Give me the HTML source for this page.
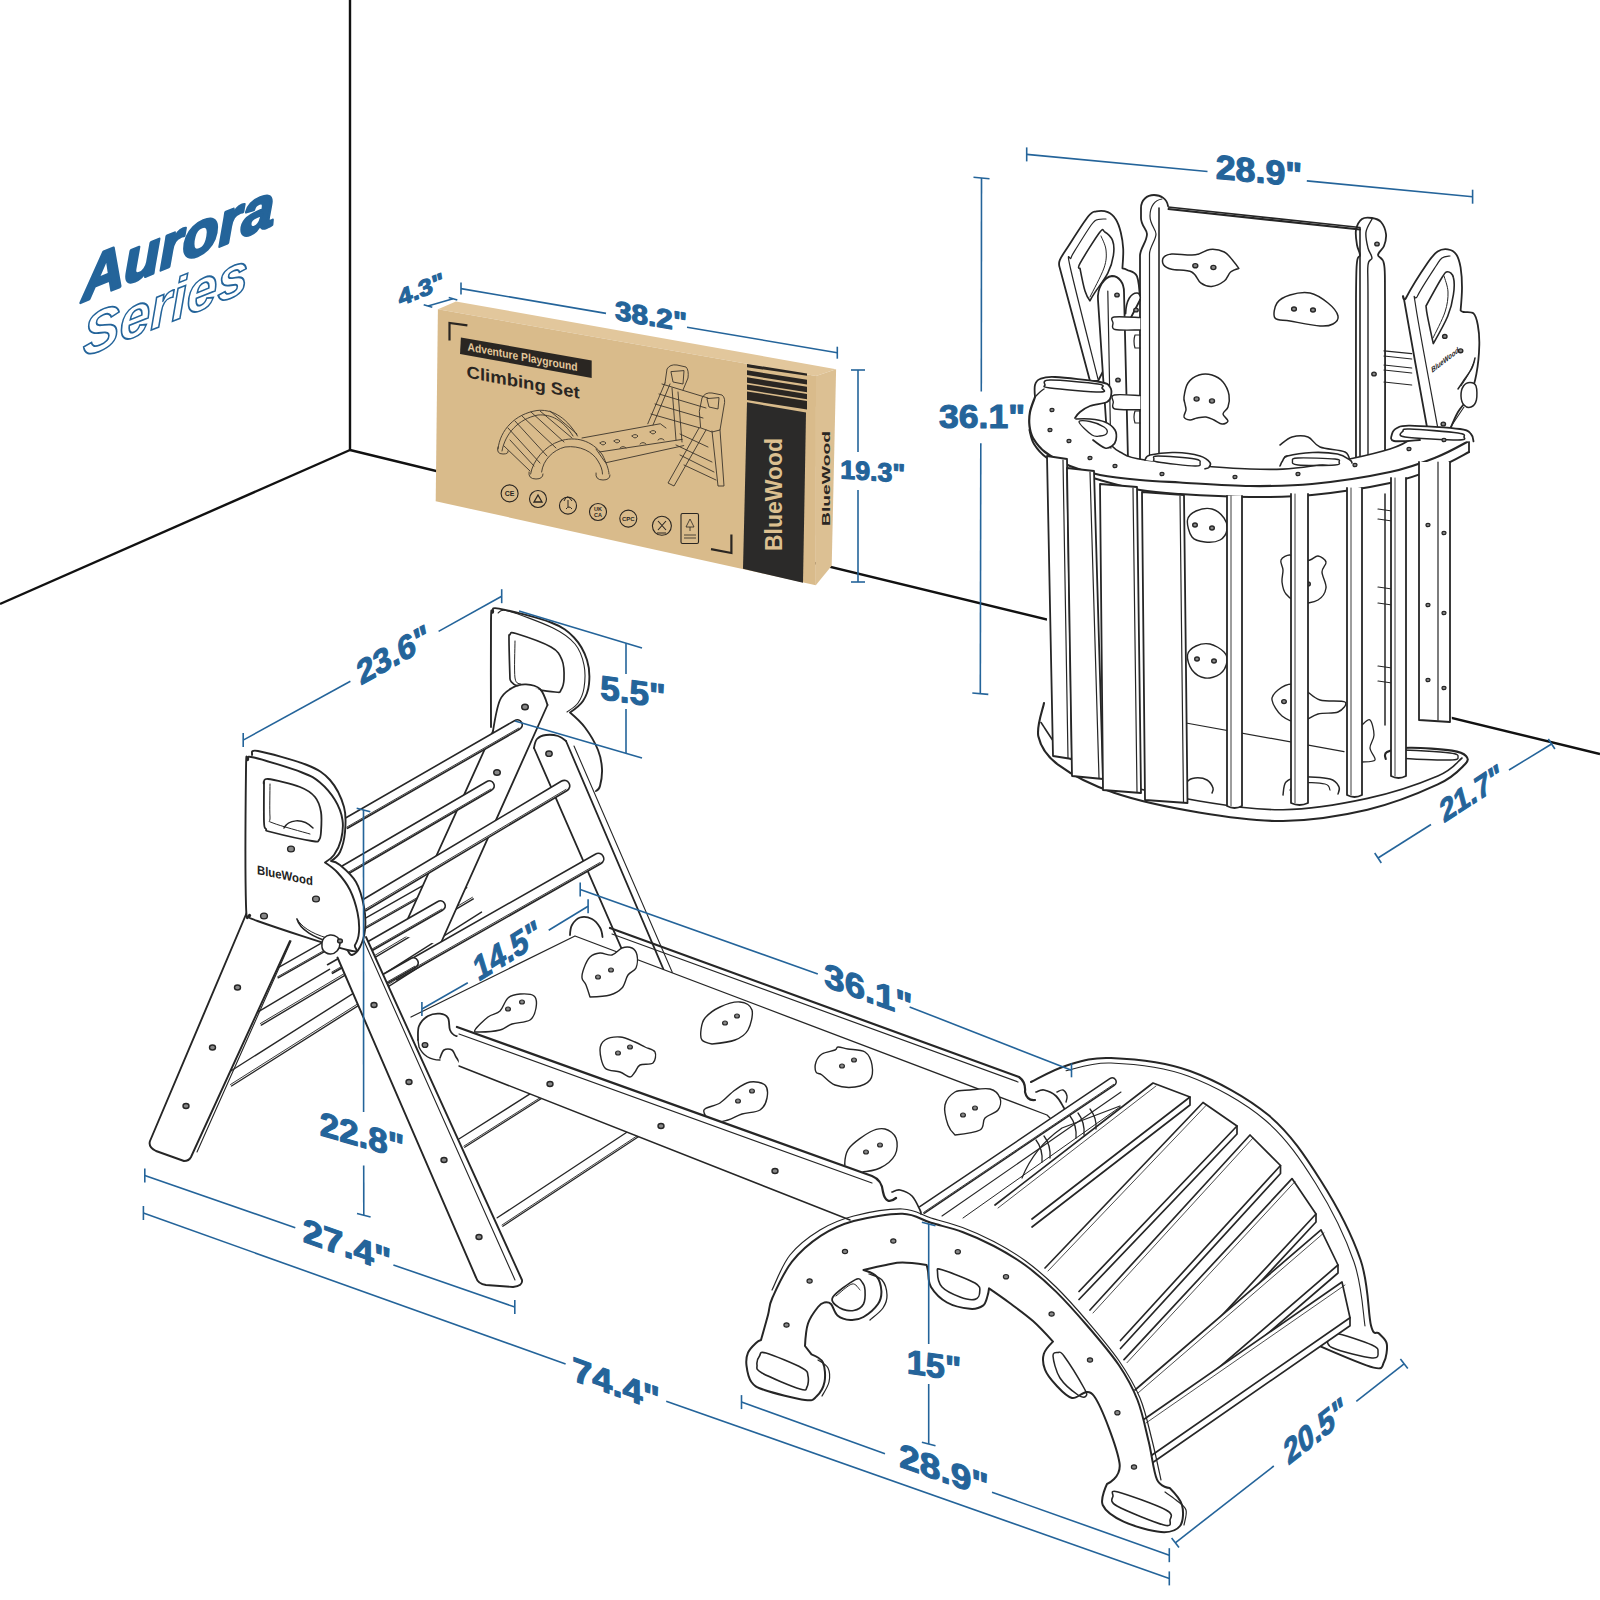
<!DOCTYPE html>
<html><head><meta charset="utf-8"><style>
html,body{margin:0;padding:0;background:#fff;}
svg{display:block;}
text{font-family:"Liberation Sans",sans-serif;}
</style></head><body>
<svg width="1600" height="1600" viewBox="0 0 1600 1600">
<rect width="1600" height="1600" fill="#fff"/>
<g stroke="#111" stroke-width="2.4" fill="none">
<line x1="350" y1="0" x2="350" y2="450" />
<line x1="0" y1="604" x2="350" y2="450" />
<line x1="350" y1="450" x2="1600" y2="754" />
</g>

<polygon points="437.9,309.3 455.9,301.4 836.1,369.2 816,376" fill="#e2c79c"/>
<polygon points="816,376 836.1,369.2 831.7,565.8 815.8,585.2" fill="#dcc093"/>
<polygon points="437.9,309.3 816,376 815.8,585.2 435.7,501.2" fill="#d9bb8b"/>
<polygon points="747,402.3 806,412.5 803,582.8 743,568.8" fill="#2b2a29"/>


<g>
<polyline points="449.5,340.6 449.5,323 467.4,325.4" fill="none" stroke="#2a2622" stroke-width="2.2"/>
<polyline points="711,549.2 731.4,553 731.4,534.4" fill="none" stroke="#2a2622" stroke-width="2.2"/>
<polygon points="460.9,337.4 591.7,360.5 591.7,378 460,354" fill="#2a2622"/>
<text transform="matrix(0.983,0.184,0,1,467.5,350.5)" font-size="11.5" font-weight="bold" fill="#e3c89c" textLength="112" lengthAdjust="spacingAndGlyphs">Adventure Playground</text>
<text transform="matrix(0.983,0.184,0,1,466.6,377.5)" font-size="17" fill="#2a2622" textLength="115" lengthAdjust="spacingAndGlyphs" style="font-weight:bold">Climbing Set</text>
<polygon points="747,364 807,373.4 807,375.8 747,367.2" fill="#2a2622"/>
<polygon points="747,370.3 807,379.8 807,384.5 747,375" fill="#2a2622"/>
<polygon points="747,377.3 807,386.8 807,392.3 747,382.8" fill="#2a2622"/>
<polygon points="747,384.4 807,393.9 807,399.3 747,389.8" fill="#2a2622"/>
<polygon points="747,391.4 807,400.9 807,409.5 747,400" fill="#2a2622"/>
<text transform="translate(782,551) rotate(-90)" font-size="24" font-weight="bold" fill="#dcc090" textLength="113" lengthAdjust="spacingAndGlyphs">BlueWood</text>
<text transform="translate(830,526) rotate(-90)" font-size="11" font-weight="bold" fill="#2a2622" textLength="95" lengthAdjust="spacingAndGlyphs">BlueWood</text>
<g fill="none" stroke="#2a2622" stroke-width="1.1">
<circle cx="509.6" cy="493.4" r="8.5"/><circle cx="538" cy="499" r="8.5"/><circle cx="568" cy="505.6" r="8.5"/><circle cx="598" cy="512" r="8.5"/><circle cx="628.3" cy="518.6" r="8.5"/><circle cx="661.9" cy="525.8" r="9.5"/>
<rect x="681" y="513.5" width="17.5" height="30" rx="1.5"/>
<path d="M534,502 L538,495 L542,502 Z" stroke-width="1.3"/>
<path d="M564,501 q3,-8 8,0 M566,509 q3,-4 6,0 M568,500 v7" stroke-width="1"/>
<path d="M658,521 L666,530 M666,521 L658,530 M657,533 h9" stroke-width="1.1"/>
<path d="M686,527 L690,519 L694,527 Z M690,527 v4 M684,535 h12 M684,538 h12" stroke-width="0.8"/>
</g>
<g fill="#2a2622" font-weight="bold" text-anchor="middle" font-size="7">
<text x="509.6" y="496">CE</text><text x="628.3" y="521" font-size="6">CPC</text><text x="598" y="511" font-size="5.5">UK</text><text x="598" y="517" font-size="5.5">CA</text>
</g>
<g fill="none" stroke="#3b342b" stroke-width="0.9" stroke-linejoin="round" stroke-linecap="round">
<path d="M498,449 C500,430 515,414 537,410.5 C550,409 565,415 577.5,436"/>
<path d="M502,451 C505,434 518,419 538,415 C551,414 563,420 573,436"/>
<path d="M508,428 L540,463 M515,421 L547,456 M522,416 L556,448 M531,412 L564,442 M540,411 L572,438 M550,411 L577,434 M510,440 L534,466 M504,446 L530,471"/>
<path d="M530.6,474 C533,460 545,446 560,441 C575,436 592,440 602.5,455 C606,462 609,470 609,474"/>
<path d="M541.6,472 C543,460 553,450 565,447 C580,445 593,452 598,461 C601,466 602.5,470 602.5,474"/>
<path d="M529,472 q-1,7 7,7 q7,0 7,-5 M596,473 q-1,7 7,7 q7,0 7,-5 M498,447 q-2,7 5,7 q6,0 5,-3"/>
<path d="M582,438 L660.3,423.75 L666,428 M599.4,452 L682.2,439.4 M605.6,462.8 L683.75,445.6 M596,449 L605,462"/>
<path d="M600,443 q3,-3 6,0 q-3,4 -6,0 M614,441 q3,-3 6,0 q-3,4 -6,0 M632,436 q3,-3 6,0 q-3,4 -6,0 M650,432 q3,-3 6,0 q-3,4 -6,0 M620,448 q3,-3 6,0 M640,444 q3,-3 6,0 M658,440 q3,-3 6,0"/>
<path d="M647.8,423.75 L665,383 M653,425 L670,384 M665,383 L667,369 Q670,364 677,365 L686,367 Q689,370 688,378 L683,390"/>
<path d="M671,372 L673,382 L683,384 L684,371 Z"/>
<path d="M659,394 L706,408 M655,404 L703,418 M651,414 L700,428 M662,384 L708,398 M672,388 L676,440 M678,392 L682,442"/>
<path d="M699.4,411 L702,398 Q705,392 712,393 L722,395 Q726,398 724,406 L720,430 L712,432 L701,428 Z"/>
<path d="M707,399 L709,407 L718,409 L719,398 Z"/>
<path d="M699,428 L668,483 L674,486 L706,430 M712,431 L718,486 L724,486 L720,430"/>
<path d="M676,445 L712,462 M680,455 L714,472 M684,465 L716,480 M680,434 L708,447"/>
</g>
</g>
<g stroke="#262626" stroke-linecap="round" stroke-linejoin="round" fill="none">
<path d="M1030.0,430.0 C1030.0,431.8 1027.0,436.3 1030.0,441.0 C1033.0,445.7 1045.0,431.5 1048.0,458.0 C1051.0,484.5 1049.8,552.3 1048.0,600.0 C1046.2,647.7 1037.5,715.7 1037.0,744.0 C1036.5,772.3 1040.8,762.8 1045.0,770.0 C1049.2,777.2 1046.2,780.0 1062.0,787.0 C1077.8,794.0 1108.7,806.0 1140.0,812.0 C1171.3,818.0 1216.0,822.5 1250.0,823.0 C1284.0,823.5 1315.3,821.0 1344.0,815.0 C1372.7,809.0 1402.3,795.3 1422.0,787.0 C1441.7,778.7 1457.0,775.8 1462.0,765.0 C1467.0,754.2 1453.8,774.2 1452.0,722.0 C1450.2,669.8 1448.2,497.0 1451.0,452.0 C1453.8,407.0 1466.0,453.8 1469.0,452.0 C1472.0,450.2 1469.0,442.8 1469.0,441.0" stroke-width="0" fill="#fff"/><path d="M1158.5,206.0 L1360.0,227.5 L1360.0,470.0 L1159.0,476.0" stroke-width="1.6" fill="none"/><line x1="1159.0" y1="208.0" x2="1360.0" y2="229.5" stroke-width="2.2"/><path d="M1140,470 L1140,256 C1140,248 1147,242 1147,234 C1147,229 1141,226 1141,218 L1141,208 C1141,200 1147,195 1154,195 C1161,195 1167,199 1168,206" stroke-width="1.8" fill="#fff"/><path d="M1149.5,470 L1149.5,254 C1149.5,247 1156,240 1156,234 C1156,229 1150,225 1150,216 C1150,206 1155,200 1162,199" stroke-width="1.2" fill="none"/><path d="M1159.0,208.0 L1159.0,470.0" stroke-width="1.6" fill="none"/><path d="M1356.0,470.0 C1356.0,441.7 1355.8,334.7 1356.0,300.0 C1356.2,265.3 1356.3,269.5 1357.0,262.0 C1357.7,254.5 1360.0,257.8 1360.0,255.0 C1360.0,252.2 1357.7,249.2 1357.0,245.0 C1356.3,240.8 1355.2,234.3 1356.0,230.0 C1356.8,225.7 1359.3,221.0 1362.0,219.0 C1364.7,217.0 1368.8,217.5 1372.0,218.0 C1375.2,218.5 1378.7,219.3 1381.0,222.0 C1383.3,224.7 1385.5,230.0 1386.0,234.0 C1386.5,238.0 1385.3,242.5 1384.0,246.0 C1382.7,249.5 1378.0,252.0 1378.0,255.0 C1378.0,258.0 1382.8,256.5 1384.0,264.0 C1385.2,271.5 1384.8,265.7 1385.0,300.0 C1385.2,334.3 1385.0,441.7 1385.0,470.0" stroke-width="1.8" fill="none"/><path d="M1368.0,466.0 C1368.0,438.3 1368.0,333.5 1368.0,300.0 C1368.0,266.5 1367.3,272.0 1368.0,265.0 C1368.7,258.0 1372.0,260.8 1372.0,258.0 C1372.0,255.2 1369.0,252.3 1368.0,248.0 C1367.0,243.7 1365.3,236.8 1366.0,232.0 C1366.7,227.2 1371.0,221.2 1372.0,219.0" stroke-width="1.4" fill="none"/><ellipse cx="1377.0" cy="244.0" rx="2.2" ry="1.9" stroke-width="1.4" fill="#888"/><ellipse cx="1374.0" cy="374.0" rx="2.2" ry="1.9" stroke-width="1.4" fill="#888"/><path d="M1090.0,381.0 C1090.0,381.0 1059.8,268.0 1059.8,268.0 C1059.8,268.0 1058.3,263.9 1059.8,260.1 C1061.3,256.4 1064.0,252.8 1068.8,245.5 C1073.5,238.2 1083.7,222.0 1088.3,216.3 C1092.9,210.6 1093.2,212.1 1096.4,211.4 C1099.7,210.7 1104.5,210.8 1107.8,212.2 C1111.0,213.5 1113.7,216.1 1115.9,219.5 C1118.1,222.9 1119.6,227.6 1120.8,232.5 C1122.0,237.4 1122.9,242.8 1123.2,248.8 C1123.5,254.8 1122.4,268.3 1122.4,268.3 C1122.4,268.3 1124.9,268.6 1127.3,270.0 C1129.7,271.4 1134.9,271.4 1137.0,276.4 C1139.1,281.4 1140.0,300.0 1140.0,300.0 C1140.0,300.0 1098.0,381.0 1098.0,381.0 C1098.0,381.0 1090.0,381.0 1090.0,381.0 Z" stroke-width="1.8" fill="#fff"/><path d="M1098.0,379.0 C1093.4,360.5 1074.9,288.2 1070.4,268.0 C1065.9,247.8 1070.1,261.2 1071.0,258.0 C1071.9,254.8 1072.5,254.5 1076.0,248.8 C1079.5,243.1 1088.3,228.9 1092.0,224.0 C1095.7,219.1 1095.7,220.3 1098.0,219.5 C1100.3,218.7 1104.7,219.1 1106.0,219.0" stroke-width="1.2" fill="none"/><path d="M1080.0,268.3 C1080.0,268.3 1076.7,269.4 1080.0,263.4 C1083.3,257.4 1095.5,237.8 1099.6,232.5 C1103.7,227.2 1102.3,230.3 1104.5,231.7 C1106.7,233.0 1111.1,236.7 1112.6,240.6 C1114.1,244.5 1114.2,249.9 1113.4,255.3 C1112.6,260.7 1110.9,266.9 1107.8,273.1 C1104.7,279.3 1097.8,288.0 1094.8,292.6 C1091.8,297.2 1089.9,300.8 1089.9,300.8 C1089.9,300.8 1086.7,296.4 1085.0,291.0 C1083.3,285.6 1080.0,268.3 1080.0,268.3 Z" stroke-width="1.6" fill="none"/><path d="M1101.0,236.0 C1101.8,238.3 1105.5,244.7 1106.0,250.0 C1106.5,255.3 1106.7,260.2 1104.0,268.0 C1101.3,275.8 1092.3,292.2 1090.0,297.0" stroke-width="1.0" fill="none"/><path d="M1108.6,460 L1098,300 C1097,288 1104,277 1112,276 C1119,276 1124,283 1124,292 L1128,460" stroke-width="1.8" fill="#fff"/><line x1="1107.8" y1="291.0" x2="1111.0" y2="460.0" stroke-width="1.2"/><path d="M1125.6,313.8 C1126,300 1131,293 1137,293 C1139,293 1140,295 1140.3,297.5" stroke-width="1.6" fill="#fff"/><ellipse cx="1117.0" cy="295.0" rx="2.2" ry="1.9" stroke-width="1.4" fill="#888"/><ellipse cx="1136.0" cy="310.0" rx="2.2" ry="1.9" stroke-width="1.4" fill="#888"/><ellipse cx="1118.0" cy="380.0" rx="2.2" ry="1.9" stroke-width="1.4" fill="#888"/><path d="M1140.3,317.5 C1135.9,317.4 1118.5,316.1 1114.0,317.0 C1109.5,317.9 1112.8,320.9 1113.0,323.0 C1113.2,325.1 1110.5,328.3 1115.0,329.5 C1119.5,330.7 1136.1,329.9 1140.3,330.0" stroke-width="1.4" fill="#fff"/><path d="M1140.3,395.5 C1136.0,395.4 1118.8,393.9 1114.3,395.0 C1109.8,396.1 1113.2,399.7 1113.3,402.0 C1113.4,404.3 1110.5,407.7 1115.0,409.0 C1119.5,410.3 1136.1,409.6 1140.3,409.7" stroke-width="1.4" fill="#fff"/><path d="M1140,335 L1135,335 Q1133,341 1135,348 L1140,348 M1140,411 L1135,411 Q1133,417 1135,423 L1140,423" stroke-width="1.2" fill="none"/><path d="M1426.8,426.0 C1426.8,426.0 1408.7,327.3 1405.2,306.0 C1401.7,284.7 1402.3,305.2 1406.0,298.0 C1409.7,290.8 1422.2,270.7 1427.5,263.0 C1432.8,255.3 1434.2,253.9 1437.6,251.6 C1441.0,249.3 1444.6,248.9 1447.7,249.4 C1450.8,249.9 1454.2,251.4 1456.3,254.4 C1458.4,257.4 1459.6,261.9 1460.6,267.4 C1461.5,272.9 1462.0,280.3 1462.0,287.5 C1462.0,294.7 1460.6,310.5 1460.6,310.5 C1460.6,310.5 1461.3,311.5 1463.5,312.0 C1465.7,312.5 1471.1,311.2 1473.5,313.4 C1475.9,315.6 1476.8,319.7 1477.8,325.0 C1478.8,330.3 1479.5,336.9 1479.3,345.0 C1479.1,353.1 1478.0,365.5 1476.4,373.8 C1474.9,382.1 1473.1,388.6 1470.0,395.0 C1466.9,401.4 1461.2,406.4 1458.0,412.0 C1454.8,417.6 1450.5,428.4 1450.5,428.4" stroke-width="1.8" fill="#fff"/><path d="M1437.6,427.0 C1434.0,407.2 1419.3,329.8 1416.0,308.0 C1412.7,286.2 1414.2,303.0 1417.5,296.0 C1420.8,289.0 1431.9,272.3 1436.0,266.0 C1440.1,259.7 1439.7,259.7 1442.0,258.0 C1444.3,256.3 1448.7,256.3 1450.0,256.0" stroke-width="1.2" fill="none"/><path d="M1426.0,306.0 C1426.0,306.0 1438.4,283.2 1442.0,277.5 C1445.6,271.8 1445.8,271.7 1447.7,271.7 C1449.6,271.7 1452.5,273.7 1453.4,277.5 C1454.4,281.3 1454.4,288.2 1453.4,294.7 C1452.5,301.2 1451.1,308.1 1447.7,316.3 C1444.3,324.5 1433.3,343.6 1433.3,343.6 C1433.3,343.6 1428.7,322.6 1427.5,316.3 C1426.3,310.0 1426.0,306.0 1426.0,306.0 Z" stroke-width="1.6" fill="none"/><path d="M1444.0,276.0 C1444.7,278.7 1447.8,286.0 1448.0,292.0 C1448.2,298.0 1447.5,304.3 1445.0,312.0 C1442.5,319.7 1435.0,333.7 1433.0,338.0" stroke-width="1.0" fill="none"/><ellipse cx="1444.8" cy="336.4" rx="2.2" ry="1.9" stroke-width="1.4" fill="#888"/><ellipse cx="1460.6" cy="350.8" rx="2.2" ry="1.9" stroke-width="1.4" fill="#888"/><ellipse cx="1443.3" cy="424.0" rx="2.2" ry="1.9" stroke-width="1.4" fill="#888"/><path d="M1384,350.8 L1411.7,353.7 M1384,356 L1411.7,359 M1384,365 L1411.7,368 M1384,370 L1411.7,373 M1384,382 L1411.7,385" stroke-width="1.2" fill="none"/><text transform="matrix(0.79,-0.61,0.15,1,1432,373)" font-size="8" font-weight="bold" fill="#222" stroke="none" textLength="34" lengthAdjust="spacingAndGlyphs">BlueWood</text><path d="M1475.0,358.0 C1474.5,359.7 1473.8,364.3 1472.0,368.0 C1470.2,371.7 1466.3,376.5 1464.0,380.0 C1461.7,383.5 1459.0,387.5 1458.0,389.0" stroke-width="1.5" fill="none"/><path d="M1474.0,362.0 C1473.0,364.2 1470.2,371.0 1468.0,375.0 C1465.8,379.0 1462.2,384.2 1461.0,386.0" stroke-width="1.0" fill="none"/><path d="M1463.5,386.0 C1465.0,383.8 1467.9,382.5 1470.0,382.5 C1472.1,382.5 1474.9,383.1 1476.0,386.0 C1477.1,388.9 1477.2,396.5 1476.4,400.0 C1475.6,403.5 1473.1,406.2 1471.0,407.0 C1468.9,407.8 1465.7,406.8 1464.0,405.0 C1462.3,403.2 1461.1,399.2 1461.0,396.0 C1460.9,392.8 1462.0,388.2 1463.5,386.0 Z" stroke-width="1.5" fill="#fff"/><line x1="1464.0" y1="407.0" x2="1450.0" y2="428.0" stroke-width="1.1"/><path d="M1163.5,257.5 C1164.9,255.7 1166.4,254.4 1171.7,254.0 C1177.0,253.6 1189.0,255.6 1195.3,254.8 C1201.6,254.0 1205.0,249.9 1209.8,249.4 C1214.6,248.9 1220.4,250.0 1224.3,252.0 C1228.2,254.0 1231.0,258.5 1233.4,261.2 C1235.8,263.9 1238.8,268.4 1238.8,268.4 C1238.8,268.4 1233.0,269.9 1230.6,272.0 C1228.2,274.1 1227.5,278.6 1224.3,281.0 C1221.1,283.4 1215.5,286.2 1211.6,286.5 C1207.7,286.8 1204.0,285.3 1200.7,282.9 C1197.4,280.5 1196.5,274.3 1191.7,272.0 C1186.9,269.7 1176.4,270.5 1171.7,269.3 C1167.0,268.1 1164.9,266.8 1163.5,264.8 C1162.1,262.8 1162.1,259.3 1163.5,257.5 Z" stroke-width="1.5" fill="#fff"/><ellipse cx="1195.3" cy="265.7" rx="2.5" ry="2.1" stroke-width="1.4" fill="#888"/><ellipse cx="1213.4" cy="267.5" rx="2.5" ry="2.1" stroke-width="1.4" fill="#888"/><path d="M1275.0,318.0 C1272.8,315.0 1274.5,306.8 1277.0,303.0 C1279.5,299.2 1284.5,296.7 1290.0,295.0 C1295.5,293.3 1303.7,291.7 1310.0,293.0 C1316.3,294.3 1323.3,299.2 1328.0,303.0 C1332.7,306.8 1337.2,312.5 1338.0,316.0 C1338.8,319.5 1336.0,322.3 1333.0,324.0 C1330.0,325.7 1327.2,326.5 1320.0,326.0 C1312.8,325.5 1297.5,322.3 1290.0,321.0 C1282.5,319.7 1277.2,321.0 1275.0,318.0 Z" stroke-width="1.5" fill="#fff"/><ellipse cx="1294.0" cy="309.0" rx="2.4" ry="2.0" stroke-width="1.4" fill="#888"/><ellipse cx="1313.0" cy="310.0" rx="2.4" ry="2.0" stroke-width="1.4" fill="#888"/><path d="M1184.0,397.0 C1184.5,393.5 1185.5,386.7 1188.0,383.0 C1190.5,379.3 1195.0,376.3 1199.0,375.0 C1203.0,373.7 1208.0,373.8 1212.0,375.0 C1216.0,376.2 1220.2,378.7 1223.0,382.0 C1225.8,385.3 1228.2,390.8 1229.0,395.0 C1229.8,399.2 1229.0,403.8 1228.0,407.0 C1227.0,410.2 1223.0,411.7 1223.0,414.0 C1223.0,416.3 1228.2,419.3 1228.0,421.0 C1227.8,422.7 1224.3,424.2 1222.0,424.0 C1219.7,423.8 1216.7,421.2 1214.0,420.0 C1211.3,418.8 1208.8,417.3 1206.0,417.0 C1203.2,416.7 1199.7,417.5 1197.0,418.0 C1194.3,418.5 1192.2,420.2 1190.0,420.0 C1187.8,419.8 1184.7,418.7 1184.0,417.0 C1183.3,415.3 1185.8,412.2 1186.0,410.0 C1186.2,407.8 1185.3,406.2 1185.0,404.0 C1184.7,401.8 1183.5,400.5 1184.0,397.0 Z" stroke-width="1.5" fill="#fff"/><ellipse cx="1196.6" cy="399.0" rx="2.5" ry="2.1" stroke-width="1.4" fill="#888"/><ellipse cx="1212.0" cy="401.0" rx="2.5" ry="2.1" stroke-width="1.4" fill="#888"/><path d="M1280.0,445.0 C1282.0,443.7 1287.3,438.3 1292.0,437.0 C1296.7,435.7 1303.3,435.3 1308.0,437.0 C1312.7,438.7 1313.8,444.5 1320.0,447.0 C1326.2,449.5 1340.0,449.5 1345.0,452.0 C1350.0,454.5 1349.2,460.3 1350.0,462.0" stroke-width="1.5" fill="none"/><ellipse cx="1287.0" cy="458.0" rx="2.4" ry="2.0" stroke-width="1.4" fill="#888"/><path d="M1035.0,397.0 C1042.6,395.0 1065.3,410.8 1075.0,418.0 C1084.7,425.2 1085.5,434.3 1093.0,440.0 C1100.5,445.7 1111.3,448.7 1120.0,452.0 C1128.7,455.3 1123.3,457.2 1145.0,460.0 C1166.7,462.8 1222.2,468.0 1250.0,469.0 C1277.8,470.0 1288.7,469.3 1312.0,466.0 C1335.3,462.7 1372.0,454.5 1390.0,449.0 C1408.0,443.5 1406.8,434.3 1420.0,433.0 C1433.2,431.7 1460.8,437.8 1469.0,441.0 C1477.2,444.2 1474.3,447.5 1469.0,452.0 C1463.7,456.5 1450.2,462.8 1437.0,468.0 C1423.8,473.2 1410.8,478.5 1390.0,483.0 C1369.2,487.5 1335.3,492.7 1312.0,495.0 C1288.7,497.3 1272.0,497.2 1250.0,497.0 C1228.0,496.8 1198.3,495.2 1180.0,494.0 C1161.7,492.8 1153.3,492.3 1140.0,490.0 C1126.7,487.7 1111.7,483.3 1100.0,480.0 C1088.3,476.7 1078.8,473.7 1070.0,470.0 C1061.2,466.3 1053.0,462.3 1047.0,458.0 C1041.0,453.7 1036.9,448.7 1034.0,444.0 C1031.1,439.3 1029.3,437.8 1029.5,430.0 C1029.7,422.2 1027.4,399.0 1035.0,397.0 Z" stroke-width="0" fill="#fff"/><path d="M1035.0,397.0 C1034.2,399.5 1030.9,407.2 1030.0,412.0 C1029.1,416.8 1029.0,421.7 1029.5,426.0 C1030.0,430.3 1030.4,433.7 1033.0,438.0 C1035.6,442.3 1038.8,447.3 1045.0,452.0 C1051.2,456.7 1060.8,462.2 1070.0,466.0 C1079.2,469.8 1088.3,472.7 1100.0,475.0 C1111.7,477.3 1126.7,478.8 1140.0,480.0 C1153.3,481.2 1161.7,481.5 1180.0,482.5 C1198.3,483.5 1228.0,485.8 1250.0,486.0 C1272.0,486.2 1288.7,486.3 1312.0,484.0 C1335.3,481.7 1369.2,476.5 1390.0,472.0 C1410.8,467.5 1423.8,462.2 1437.0,457.0 C1450.2,451.8 1463.7,443.7 1469.0,441.0" stroke-width="2.2" fill="none"/><path d="M1029.5,430.0 C1030.2,432.3 1031.1,439.3 1034.0,444.0 C1036.9,448.7 1041.0,453.7 1047.0,458.0 C1053.0,462.3 1061.2,466.3 1070.0,470.0 C1078.8,473.7 1088.3,476.7 1100.0,480.0 C1111.7,483.3 1126.7,487.7 1140.0,490.0 C1153.3,492.3 1161.7,492.8 1180.0,494.0 C1198.3,495.2 1228.0,496.8 1250.0,497.0 C1272.0,497.2 1288.7,497.3 1312.0,495.0 C1335.3,492.7 1369.2,487.5 1390.0,483.0 C1410.8,478.5 1423.8,473.2 1437.0,468.0 C1450.2,462.8 1463.7,454.7 1469.0,452.0" stroke-width="2.0" fill="none"/><line x1="1469.0" y1="441.0" x2="1469.0" y2="452.0" stroke-width="1.8"/><path d="M1112.0,446.0 C1113.3,447.0 1114.5,449.7 1120.0,452.0 C1125.5,454.3 1123.3,457.2 1145.0,460.0 C1166.7,462.8 1222.2,468.0 1250.0,469.0 C1277.8,470.0 1288.7,469.3 1312.0,466.0 C1335.3,462.7 1372.0,454.5 1390.0,449.0 C1408.0,443.5 1415.0,435.7 1420.0,433.0" stroke-width="1.6" fill="none"/><path d="M1035.0,397.0 C1035.0,397.0 1034.2,388.0 1035.0,385.0 C1035.8,382.0 1036.7,380.3 1040.0,379.0 C1043.3,377.7 1045.0,376.5 1055.0,377.0 C1065.0,377.5 1090.8,380.3 1100.0,382.0 C1109.2,383.7 1108.2,384.7 1110.0,387.0 C1111.8,389.3 1111.5,393.5 1111.0,396.0 C1110.5,398.5 1110.5,400.3 1107.0,402.0 C1103.5,403.7 1094.5,404.3 1090.0,406.0 C1085.5,407.7 1082.5,410.0 1080.0,412.0 C1077.5,414.0 1075.0,418.0 1075.0,418.0" stroke-width="1.8" fill="#fff"/><path d="M1035.0,397.0 C1035.8,396.2 1038.5,393.3 1040.0,392.0 C1041.5,390.7 1043.3,389.5 1044.0,389.0" stroke-width="1.3" fill="none"/><path d="M1045.0,385.0 C1045.0,383.7 1041.2,380.2 1050.0,380.0 C1058.8,379.8 1089.3,382.7 1098.0,384.0 C1106.7,385.3 1101.7,386.7 1102.0,388.0 C1102.3,389.3 1108.7,392.0 1100.0,392.0 C1091.3,392.0 1059.2,389.2 1050.0,388.0 C1040.8,386.8 1045.0,386.3 1045.0,385.0 Z" stroke-width="1.6" fill="none"/><path d="M1076.0,419.0 C1076.0,419.0 1085.2,418.5 1090.0,419.0 C1094.8,419.5 1100.8,420.2 1105.0,422.0 C1109.2,423.8 1113.2,427.0 1115.0,430.0 C1116.8,433.0 1116.5,437.3 1116.0,440.0 C1115.5,442.7 1113.8,444.7 1112.0,446.0 C1110.2,447.3 1108.2,449.0 1105.0,448.0 C1101.8,447.0 1093.0,440.0 1093.0,440.0" stroke-width="1.7" fill="#fff"/><path d="M1079.0,422.0 C1078.7,419.8 1085.8,420.7 1090.0,421.5 C1094.2,422.3 1101.2,425.1 1104.0,427.0 C1106.8,428.9 1107.7,431.5 1107.0,433.0 C1106.3,434.5 1102.5,435.7 1100.0,436.0 C1097.5,436.3 1095.5,437.3 1092.0,435.0 C1088.5,432.7 1079.3,424.2 1079.0,422.0 Z" stroke-width="1.3" fill="none"/><path d="M1420.0,440.0 C1415.7,440.2 1398.7,442.0 1394.0,441.0 C1389.3,440.0 1391.5,436.2 1392.0,434.0 C1392.5,431.8 1394.0,429.4 1397.0,428.0 C1400.0,426.6 1399.5,425.4 1410.0,425.6 C1420.5,425.8 1449.8,427.6 1460.0,429.0 C1470.2,430.4 1468.8,431.9 1471.0,434.0 C1473.2,436.1 1473.1,440.2 1473.5,441.4" stroke-width="1.8" fill="#fff"/><path d="M1403.0,431.0 C1403.8,429.7 1400.8,428.7 1410.0,429.0 C1419.2,429.3 1449.0,431.7 1458.0,433.0 C1467.0,434.3 1464.0,435.8 1464.0,437.0 C1464.0,438.2 1467.8,440.0 1458.0,440.0 C1448.2,440.0 1414.2,438.5 1405.0,437.0 C1395.8,435.5 1402.2,432.3 1403.0,431.0 Z" stroke-width="1.6" fill="none"/><path d="M1145.0,460.0 C1145.8,459.2 1145.0,456.2 1150.0,455.0 C1155.0,453.8 1166.7,452.3 1175.0,452.5 C1183.3,452.7 1194.2,454.3 1200.0,456.0 C1205.8,457.7 1208.5,460.6 1210.0,462.5 C1211.5,464.4 1209.6,466.5 1208.8,467.5 C1207.9,468.5 1205.6,468.5 1205.0,468.8" stroke-width="1.6" fill="#fff"/><path d="M1154.0,459.0 C1154.0,458.0 1151.2,456.0 1158.0,456.0 C1164.8,456.0 1188.0,457.8 1195.0,459.0 C1202.0,460.2 1200.0,461.8 1200.0,463.0 C1200.0,464.2 1202.0,466.2 1195.0,466.0 C1188.0,465.8 1164.8,463.2 1158.0,462.0 C1151.2,460.8 1154.0,460.0 1154.0,459.0 Z" stroke-width="1.4" fill="none"/><path d="M1280.0,466.0 C1280.4,465.2 1281.2,462.7 1282.5,461.0 C1283.8,459.3 1282.5,457.4 1287.5,456.0 C1292.5,454.6 1304.2,452.8 1312.5,452.5 C1320.8,452.2 1331.2,452.8 1337.5,454.0 C1343.8,455.2 1347.6,458.5 1350.0,460.0 C1352.4,461.5 1351.7,462.5 1352.0,463.0" stroke-width="1.6" fill="#fff"/><path d="M1292.5,461.0 C1292.5,459.8 1290.9,458.3 1298.0,458.0 C1305.1,457.7 1328.2,458.3 1335.0,459.0 C1341.8,459.7 1339.0,461.0 1339.0,462.0 C1339.0,463.0 1341.8,464.5 1335.0,465.0 C1328.2,465.5 1305.1,465.7 1298.0,465.0 C1290.9,464.3 1292.5,462.2 1292.5,461.0 Z" stroke-width="1.4" fill="none"/><ellipse cx="1050.0" cy="430.0" rx="2.0" ry="1.7" stroke-width="1.2" fill="#888"/><ellipse cx="1069.0" cy="441.0" rx="2.0" ry="1.7" stroke-width="1.2" fill="#888"/><ellipse cx="1090.0" cy="458.0" rx="2.0" ry="1.7" stroke-width="1.2" fill="#888"/><ellipse cx="1115.0" cy="466.0" rx="2.0" ry="1.7" stroke-width="1.2" fill="#888"/><ellipse cx="1162.0" cy="474.0" rx="2.0" ry="1.7" stroke-width="1.2" fill="#888"/><ellipse cx="1235.0" cy="477.0" rx="2.0" ry="1.7" stroke-width="1.2" fill="#888"/><ellipse cx="1298.0" cy="474.0" rx="2.0" ry="1.7" stroke-width="1.2" fill="#888"/><ellipse cx="1355.0" cy="465.0" rx="2.0" ry="1.7" stroke-width="1.2" fill="#888"/><ellipse cx="1409.0" cy="449.0" rx="2.0" ry="1.7" stroke-width="1.2" fill="#888"/><ellipse cx="1444.0" cy="440.0" rx="2.0" ry="1.7" stroke-width="1.2" fill="#888"/><ellipse cx="1052.0" cy="410.0" rx="2.0" ry="1.7" stroke-width="1.2" fill="#888"/><path d="M1044.0,703.0 C1043.1,708.6 1036.1,726.3 1038.4,736.6 C1040.7,746.9 1045.4,755.3 1058.0,764.7 C1070.6,774.1 1090.5,784.8 1114.0,792.8 C1137.5,800.8 1170.8,807.8 1199.0,812.5 C1227.2,817.2 1254.9,821.5 1283.0,821.0 C1311.1,820.5 1341.7,815.8 1367.5,809.7 C1393.3,803.6 1421.6,791.9 1437.8,784.4 C1454.0,776.9 1459.8,769.4 1464.5,764.7 C1469.2,760.0 1468.1,758.4 1466.0,756.0 C1463.9,753.6 1461.4,752.0 1452.0,750.6 C1442.6,749.2 1420.4,747.6 1409.6,747.8 C1398.8,748.0 1391.0,750.1 1387.0,752.0 C1383.0,753.9 1385.9,757.8 1385.7,759.0" stroke-width="2.1" fill="none"/><path d="M1041.0,722.5 C1045.3,728.1 1054.4,746.1 1066.6,756.0 C1078.8,765.9 1091.9,774.1 1114.0,781.6 C1136.1,789.1 1170.8,796.3 1199.0,801.0 C1227.2,805.7 1254.9,810.1 1283.0,809.7 C1311.1,809.3 1341.7,804.0 1367.5,798.4 C1393.3,792.8 1422.0,782.7 1437.8,776.0 C1453.5,769.3 1458.0,761.0 1462.0,758.0" stroke-width="1.6" fill="none"/><path d="M1392.0,753.0 C1392.0,751.7 1390.3,750.0 1400.0,750.0 C1409.7,750.0 1440.3,751.8 1450.0,753.0 C1459.7,754.2 1458.0,755.8 1458.0,757.0 C1458.0,758.2 1459.7,759.8 1450.0,760.0 C1440.3,760.2 1409.7,759.2 1400.0,758.0 C1390.3,756.8 1392.0,754.3 1392.0,753.0 Z" stroke-width="1.4" fill="none"/><path d="M1185.0,793.0 C1185.3,791.2 1185.3,784.5 1187.0,782.0 C1188.7,779.5 1191.7,778.3 1195.0,778.0 C1198.3,777.7 1204.0,778.3 1207.0,780.0 C1210.0,781.7 1212.2,785.8 1213.0,788.0 C1213.8,790.2 1212.2,792.2 1212.0,793.0" stroke-width="1.5" fill="none"/><path d="M1283.0,795.0 C1283.5,792.8 1283.2,785.0 1286.0,782.0 C1288.8,779.0 1292.7,777.5 1300.0,777.0 C1307.3,776.5 1323.5,777.3 1330.0,779.0 C1336.5,780.7 1337.7,784.5 1339.0,787.0 C1340.3,789.5 1338.2,792.8 1338.0,794.0" stroke-width="1.5" fill="none"/><path d="M1290.0,790.0 C1291.3,788.8 1292.2,784.0 1298.0,783.0 C1303.8,782.0 1319.7,782.8 1325.0,784.0 C1330.3,785.2 1329.2,789.0 1330.0,790.0" stroke-width="1.2" fill="none"/><path d="M1186,723 L1344,751.6" stroke-width="1.2" fill="none"/><path d="M1187.5,520.0 C1188.2,515.7 1191.9,512.8 1196.0,511.0 C1200.1,509.2 1207.3,507.8 1212.0,509.0 C1216.7,510.2 1221.5,514.5 1224.0,518.0 C1226.5,521.5 1227.7,526.3 1227.0,530.0 C1226.3,533.7 1223.7,538.0 1220.0,540.0 C1216.3,542.0 1209.7,542.5 1205.0,542.0 C1200.3,541.5 1194.9,540.7 1192.0,537.0 C1189.1,533.3 1186.8,524.3 1187.5,520.0 Z" stroke-width="1.4" fill="none"/><ellipse cx="1195.0" cy="525.0" rx="2.3" ry="2.0" stroke-width="1.4" fill="#888"/><ellipse cx="1212.0" cy="528.0" rx="2.3" ry="2.0" stroke-width="1.4" fill="#888"/><path d="M1283.0,570.0 C1282.8,566.3 1279.8,562.5 1281.0,560.0 C1282.2,557.5 1287.2,554.7 1290.0,555.0 C1292.8,555.3 1294.7,561.2 1298.0,562.0 C1301.3,562.8 1306.7,561.0 1310.0,560.0 C1313.3,559.0 1315.3,555.7 1318.0,556.0 C1320.7,556.3 1325.3,559.3 1326.0,562.0 C1326.7,564.7 1322.0,567.7 1322.0,572.0 C1322.0,576.3 1326.7,583.3 1326.0,588.0 C1325.3,592.7 1322.3,597.5 1318.0,600.0 C1313.7,602.5 1305.3,604.0 1300.0,603.0 C1294.7,602.0 1289.0,597.5 1286.0,594.0 C1283.0,590.5 1282.5,586.0 1282.0,582.0 C1281.5,578.0 1283.2,573.7 1283.0,570.0 Z" stroke-width="1.4" fill="none"/><ellipse cx="1308.0" cy="584.0" rx="2.3" ry="2.0" stroke-width="1.4" fill="#888"/><path d="M1187.5,655.0 C1188.2,651.0 1192.2,647.8 1196.0,646.0 C1199.8,644.2 1205.3,643.0 1210.0,644.0 C1214.7,645.0 1221.2,649.0 1224.0,652.0 C1226.8,655.0 1227.7,658.3 1227.0,662.0 C1226.3,665.7 1223.7,671.3 1220.0,674.0 C1216.3,676.7 1209.7,678.7 1205.0,678.0 C1200.3,677.3 1194.9,673.8 1192.0,670.0 C1189.1,666.2 1186.8,659.0 1187.5,655.0 Z" stroke-width="1.4" fill="none"/><ellipse cx="1197.0" cy="659.0" rx="2.3" ry="2.0" stroke-width="1.4" fill="#888"/><ellipse cx="1214.0" cy="661.0" rx="2.3" ry="2.0" stroke-width="1.4" fill="#888"/><path d="M1272.0,700.0 C1271.3,695.7 1274.7,692.7 1278.0,690.0 C1281.3,687.3 1287.5,684.0 1292.0,684.0 C1296.5,684.0 1300.3,687.3 1305.0,690.0 C1309.7,692.7 1313.3,698.0 1320.0,700.0 C1326.7,702.0 1342.0,700.0 1345.0,702.0 C1348.0,704.0 1342.5,710.0 1338.0,712.0 C1333.5,714.0 1324.3,712.3 1318.0,714.0 C1311.7,715.7 1306.0,721.7 1300.0,722.0 C1294.0,722.3 1286.7,719.7 1282.0,716.0 C1277.3,712.3 1272.7,704.3 1272.0,700.0 Z" stroke-width="1.4" fill="none"/><ellipse cx="1284.0" cy="701.6" rx="2.3" ry="2.0" stroke-width="1.4" fill="#888"/><path d="M1362.0,725.0 C1363.3,724.2 1368.0,718.3 1370.0,720.0 C1372.0,721.7 1374.0,730.3 1374.0,735.0 C1374.0,739.7 1369.8,743.8 1370.0,748.0 C1370.2,752.2 1376.3,757.7 1375.0,760.0 C1373.7,762.3 1364.2,761.7 1362.0,762.0" stroke-width="1.3" fill="none"/><path d="M1378,509 L1392,511 M1378,519 L1392,521 M1378,587 L1392,589 M1378,603 L1392,605 M1378,666 L1392,668 M1378,681 L1392,683" stroke-width="1.2" fill="none"/><path d="M1356,498 L1356,725 M1385,494 L1385,725" stroke-width="1.5" fill="none"/><path d="M1047.0,456.0 L1067.0,459.0 L1072.0,759.0 L1053.0,756.0 Z" stroke-width="1.8" fill="#fff"/><line x1="1063.0" y1="460.0" x2="1068.0" y2="758.0" stroke-width="1.2"/><path d="M1067.0,468.0 L1094.0,471.0 L1103.0,779.0 L1072.0,776.0 Z" stroke-width="1.8" fill="#fff"/><line x1="1090.0" y1="472.0" x2="1099.0" y2="778.0" stroke-width="1.2"/><path d="M1100.0,484.0 L1137.0,487.0 L1141.0,793.0 L1103.0,790.0 Z" stroke-width="1.8" fill="#fff"/><line x1="1133.0" y1="488.0" x2="1137.0" y2="792.0" stroke-width="1.2"/><path d="M1142.0,492.0 L1184.0,495.0 L1187.5,803.0 L1145.0,800.0 Z" stroke-width="1.8" fill="#fff"/><line x1="1180.0" y1="496.0" x2="1183.5" y2="802.0" stroke-width="1.2"/><path d="M1227,496 L1227,806 Q1234.5,810 1242,806 L1242,496" stroke-width="1.8" fill="#fff"/><line x1="1231.0" y1="496.0" x2="1231.0" y2="806.0" stroke-width="0.9"/><path d="M1291,494 L1291,803 Q1299.5,807 1308,803 L1308,494" stroke-width="1.8" fill="#fff"/><line x1="1295.0" y1="494.0" x2="1295.0" y2="803.0" stroke-width="0.9"/><path d="M1347,488 L1347,795 Q1354.5,799 1362,795 L1362,488" stroke-width="1.8" fill="#fff"/><line x1="1351.0" y1="488.0" x2="1351.0" y2="795.0" stroke-width="0.9"/><path d="M1391,478 L1391,776 Q1398.5,780 1406,776 L1406,478" stroke-width="1.8" fill="#fff"/><line x1="1395.0" y1="478.0" x2="1395.0" y2="776.0" stroke-width="0.9"/><path d="M1419.0,462.0 L1419.0,720.0 L1450.0,722.0 L1450.0,462.0" stroke-width="1.8" fill="#fff"/><line x1="1438.0" y1="462.0" x2="1438.0" y2="720.0" stroke-width="1.2"/><ellipse cx="1428.0" cy="525.0" rx="2" ry="1.7" stroke-width="1.2" fill="#888"/><ellipse cx="1444.0" cy="533.0" rx="2" ry="1.7" stroke-width="1.2" fill="#888"/><ellipse cx="1428.0" cy="605.0" rx="2" ry="1.7" stroke-width="1.2" fill="#888"/><ellipse cx="1444.0" cy="613.0" rx="2" ry="1.7" stroke-width="1.2" fill="#888"/><ellipse cx="1428.0" cy="680.0" rx="2" ry="1.7" stroke-width="1.2" fill="#888"/><ellipse cx="1444.0" cy="688.0" rx="2" ry="1.7" stroke-width="1.2" fill="#888"/><path d="M491.0,727.0 C491.0,727.0 490.7,640.1 491.0,621.0 C491.3,601.9 491.7,614.6 493.0,612.5 C494.3,610.4 489.3,606.9 499.0,608.6 C508.7,610.3 538.5,617.7 551.0,622.5 C563.5,627.3 568.0,631.2 574.0,637.5 C580.0,643.8 584.5,652.2 587.0,660.0 C589.5,667.8 589.7,677.2 589.0,684.0 C588.3,690.8 586.2,696.2 583.0,701.0 C579.8,705.8 570.0,712.5 570.0,712.5 C570.0,712.5 580.3,721.2 585.0,727.5 C589.7,733.8 595.2,743.1 598.0,750.0 C600.8,756.9 601.7,763.0 602.0,769.0 C602.3,775.0 601.0,782.3 600.0,786.0 C599.0,789.7 596.0,791.0 596.0,791.0" stroke-width="1.9" fill="#fff"/><path d="M498.0,613.0 C499.7,612.7 498.8,608.5 508.0,611.0 C517.2,613.5 541.8,622.5 553.0,628.0 C564.2,633.5 569.8,637.8 575.0,644.0 C580.2,650.2 582.5,657.7 584.0,665.0 C585.5,672.3 585.0,681.7 584.0,688.0 C583.0,694.3 580.8,699.0 578.0,703.0 C575.2,707.0 568.8,710.5 567.0,712.0" stroke-width="1.1" fill="none"/><path d="M509.0,640.0 C509.0,632.6 508.8,635.6 510.0,634.5 C511.2,633.4 509.2,631.4 516.0,633.5 C522.8,635.6 543.3,642.6 551.0,647.0 C558.7,651.4 559.8,654.7 562.0,660.0 C564.2,665.3 564.2,674.0 564.0,679.0 C563.8,684.0 562.5,687.8 561.0,690.0 C559.5,692.2 562.2,692.7 555.0,692.0 C547.8,691.3 525.5,688.2 518.0,686.0 C510.5,683.8 510.0,679.0 510.0,679.0 C510.0,679.0 509.0,647.4 509.0,640.0 Z" stroke-width="1.7" fill="none"/><path d="M515.0,641.0 C515.0,647.2 514.0,670.8 515.0,678.0 C516.0,685.2 520.0,683.0 521.0,684.0" stroke-width="1.0" fill="none"/><path d="M254.7,1013.9 L261.3,1025.1 L473.3,898.9 L466.7,887.7 L254.7,1013.9" stroke-width="0" fill="#fff"/><path d="M261.3,1025.1 L473.3,898.9 M466.7,887.7 L254.7,1013.9" stroke-width="1.4" fill="none"/><line x1="260.4" y1="1023.5" x2="472.4" y2="897.3" stroke-width="0.9"/><path d="M224.5,1075.0 L231.5,1086.0 L488.5,923.1 L481.5,912.1 L224.5,1075.0" stroke-width="0" fill="#fff"/><path d="M231.5,1086.0 L488.5,923.1 M481.5,912.1 L224.5,1075.0" stroke-width="1.4" fill="none"/><line x1="230.5" y1="1084.5" x2="487.5" y2="921.6" stroke-width="0.9"/><path d="M273.8,970.1 L278.2,977.9 L472.2,867.9 L467.8,860.1 L273.8,970.1" stroke-width="0" fill="#fff"/><path d="M278.2,977.9 L472.2,867.9 M467.8,860.1 L273.8,970.1" stroke-width="1.3" fill="none"/><line x1="277.6" y1="976.8" x2="471.6" y2="866.8" stroke-width="0.9"/><path d="M534.0,747.0 L668.0,1055.0 L700.0,1055.0 L566.0,741.0 L548.0,735.0 Z" stroke-width="0" fill="#fff"/><path d="M534.0,748.0 C534.0,748.0 535.0,741.2 537.0,739.0 C539.0,736.8 542.5,735.5 546.0,735.0 C549.5,734.5 554.7,735.0 558.0,736.0 C561.3,737.0 566.0,741.0 566.0,741.0" stroke-width="1.8" fill="none"/><line x1="534.0" y1="748.0" x2="668.0" y2="1055.0" stroke-width="1.8"/><line x1="566.0" y1="741.0" x2="700.0" y2="1055.0" stroke-width="1.8"/><line x1="574.0" y1="746.0" x2="706.0" y2="1050.0" stroke-width="1.1"/><ellipse cx="549.0" cy="753.7" rx="3.2" ry="2.7" stroke-width="1.4" fill="#888"/><path d="M493.0,731.0 L400.0,935.0 L440.0,945.0 L547.5,705.0 L540.0,690.0 L525.0,684.0 L508.0,690.0 Z" stroke-width="0" fill="#fff"/><path d="M493.0,731.0 C493.0,731.0 496.8,707.2 500.0,700.0 C503.2,692.8 507.7,690.6 512.0,688.0 C516.3,685.4 521.3,684.2 526.0,684.4 C530.7,684.6 536.4,685.6 540.0,689.0 C543.6,692.4 547.5,705.0 547.5,705.0" stroke-width="1.8" fill="none"/><line x1="493.0" y1="731.0" x2="405.0" y2="925.0" stroke-width="1.8"/><line x1="547.5" y1="705.0" x2="440.0" y2="945.0" stroke-width="1.8"/><ellipse cx="525.0" cy="707.0" rx="3.3" ry="2.8" stroke-width="1.4" fill="#888"/><ellipse cx="497.0" cy="772.5" rx="3.3" ry="2.8" stroke-width="1.4" fill="#888"/><path d="M391.3,970.2 L396.7,979.8 L600.7,863.8 C607.4,860.0 602.0,850.4 595.3,854.2 L391.3,970.2" stroke-width="0" fill="#fff"/><path d="M396.7,979.8 L600.7,863.8 C607.4,860.0 602.0,850.4 595.3,854.2 L391.3,970.2" stroke-width="1.6" fill="none"/><line x1="396.0" y1="978.5" x2="600.0" y2="862.5" stroke-width="0.9"/><path d="M360.2,901.3 L365.8,910.7 L566.8,790.7 C573.4,786.8 567.8,777.3 561.2,781.3 L360.2,901.3" stroke-width="0" fill="#fff"/><path d="M365.8,910.7 L566.8,790.7 C573.4,786.8 567.8,777.3 561.2,781.3 L360.2,901.3" stroke-width="1.6" fill="none"/><line x1="365.0" y1="909.4" x2="566.0" y2="789.4" stroke-width="0.9"/><path d="M342.5,865.7 L347.5,874.3 L491.5,790.3 C497.6,786.8 492.5,778.2 486.5,781.7 L342.5,865.7" stroke-width="0" fill="#fff"/><path d="M347.5,874.3 L491.5,790.3 C497.6,786.8 492.5,778.2 486.5,781.7 L342.5,865.7" stroke-width="1.6" fill="none"/><line x1="346.8" y1="873.1" x2="490.8" y2="789.1" stroke-width="0.9"/><path d="M342.5,819.7 L347.5,828.3 L519.5,729.3 C525.6,725.8 520.6,717.2 514.5,720.7 L342.5,819.7" stroke-width="0" fill="#fff"/><path d="M347.5,828.3 L519.5,729.3 C525.6,725.8 520.6,717.2 514.5,720.7 L342.5,819.7" stroke-width="1.6" fill="none"/><line x1="346.8" y1="827.1" x2="518.8" y2="728.1" stroke-width="0.9"/><path d="M327.5,964.7 L332.5,973.3 L442.5,910.3 C448.6,906.9 443.6,898.2 437.5,901.7 L327.5,964.7" stroke-width="0" fill="#fff"/><path d="M332.5,973.3 L442.5,910.3 C448.6,906.9 443.6,898.2 437.5,901.7 L327.5,964.7" stroke-width="1.6" fill="none"/><line x1="331.8" y1="972.1" x2="441.8" y2="909.1" stroke-width="0.9"/><path d="M352.5,991.7 L357.5,1000.3 L415.5,967.3 C421.6,963.9 416.6,955.2 410.5,958.7 L352.5,991.7" stroke-width="0" fill="#fff"/><path d="M357.5,1000.3 L415.5,967.3 C421.6,963.9 416.6,955.2 410.5,958.7 L352.5,991.7" stroke-width="1.6" fill="none"/><line x1="356.8" y1="999.2" x2="414.8" y2="966.2" stroke-width="0.9"/><path d="M250,905 L150,1141 Q148,1147 156,1151 L184,1161 Q189,1161 191,1157 L290,941" stroke-width="1.9" fill="#fff"/><line x1="197.0" y1="1152.0" x2="291.0" y2="941.0" stroke-width="1.1"/><ellipse cx="237.5" cy="987.5" rx="3" ry="2.5" stroke-width="1.4" fill="#888"/><ellipse cx="212.5" cy="1047.5" rx="3" ry="2.5" stroke-width="1.4" fill="#888"/><ellipse cx="186.0" cy="1106.0" rx="3" ry="2.5" stroke-width="1.4" fill="#888"/><path d="M337.5,957.5 L476,1277.5 Q478,1284 486,1285 L513,1287 Q523,1286 522,1280 L366,937" stroke-width="1.9" fill="#fff"/><line x1="360.0" y1="932.0" x2="515.0" y2="1280.0" stroke-width="1.1"/><ellipse cx="374.0" cy="1005.0" rx="3" ry="2.5" stroke-width="1.4" fill="#888"/><ellipse cx="409.0" cy="1082.0" rx="3" ry="2.5" stroke-width="1.4" fill="#888"/><ellipse cx="444.0" cy="1160.0" rx="3" ry="2.5" stroke-width="1.4" fill="#888"/><ellipse cx="479.0" cy="1237.0" rx="3" ry="2.5" stroke-width="1.4" fill="#888"/><path d="M252.0,755.0 C253.0,754.3 248.8,749.3 258.0,751.0 C267.2,752.7 295.0,760.2 307.0,765.0 C319.0,769.8 323.8,773.0 330.0,780.0 C336.2,787.0 341.5,798.3 344.0,807.0 C346.5,815.7 345.7,824.5 345.0,832.0 C344.3,839.5 342.3,847.2 340.0,852.0 C337.7,856.8 331.0,861.0 331.0,861.0 C331.0,861.0 335.8,861.5 340.0,865.0 C344.2,868.5 352.0,875.0 356.0,882.0 C360.0,889.0 362.5,899.0 364.0,907.0 C365.5,915.0 365.7,923.3 365.0,930.0 C364.3,936.7 362.2,942.8 360.0,947.0 C357.8,951.2 354.1,954.5 352.0,955.0 C349.9,955.5 348.2,950.8 347.5,950.0" stroke-width="1.9" fill="#fff"/><path d="M246.0,905.0 C245.3,880.8 245.7,794.2 246.0,770.0 C246.3,745.8 246.7,762.1 248.0,760.0 C249.3,757.9 245.0,755.4 254.0,757.5 C263.0,759.6 291.0,768.3 302.0,772.5 C313.0,776.7 314.5,777.9 320.0,782.5 C325.5,787.1 331.2,793.8 335.0,800.0 C338.8,806.2 341.5,813.3 342.5,820.0 C343.5,826.7 342.4,834.2 341.0,840.0 C339.6,845.8 336.7,851.2 334.0,855.0 C331.3,858.8 325.0,862.5 325.0,862.5 C325.0,862.5 333.3,867.9 337.5,872.5 C341.7,877.1 346.7,883.3 350.0,890.0 C353.3,896.7 356.0,905.5 357.5,912.5 C359.0,919.5 359.4,926.6 359.0,932.0 C358.6,937.4 356.9,942.0 355.0,945.0 C353.1,948.0 363.8,954.0 347.5,950.0 C331.2,946.0 273.8,926.8 257.5,921.0 C241.2,915.2 251.9,917.7 250.0,915.0 C248.1,912.3 246.7,929.2 246.0,905.0 Z" stroke-width="1.9" fill="#fff"/><path d="M264.0,784.0 C264.0,790.3 263.7,814.5 264.0,822.0 C264.3,829.5 264.8,827.3 266.0,829.0 C267.2,830.7 263.3,830.0 271.0,832.0 C278.7,834.0 304.0,839.7 312.0,841.0 C320.0,842.3 317.5,841.5 319.0,840.0 C320.5,838.5 320.7,836.7 321.0,832.0 C321.3,827.3 322.0,817.8 321.0,812.0 C320.0,806.2 318.5,801.2 315.0,797.0 C311.5,792.8 307.8,790.0 300.0,787.0 C292.2,784.0 274.0,779.5 268.0,779.0 C262.0,778.5 264.7,783.2 264.0,784.0 C263.3,784.8 264.0,777.7 264.0,784.0 Z" stroke-width="1.8" fill="none"/><path d="M270.0,784.0 C270.0,789.5 269.5,810.5 270.0,817.0 C270.5,823.5 266.3,820.2 273.0,823.0 C279.7,825.8 303.8,832.2 310.0,834.0" stroke-width="1.0" fill="none"/><path d="M284,828 C288,820 302,817 313,828" stroke-width="1.5" fill="none"/><ellipse cx="291.0" cy="849.0" rx="3.4" ry="2.9" stroke-width="1.4" fill="#888"/><ellipse cx="316.0" cy="899.0" rx="3.4" ry="2.9" stroke-width="1.4" fill="#888"/><ellipse cx="264.0" cy="916.0" rx="3.4" ry="2.9" stroke-width="1.4" fill="#888"/><text transform="matrix(0.98,0.2,0,1,257,874)" font-size="12.5" font-weight="bold" fill="#222" stroke="none" textLength="57" lengthAdjust="spacingAndGlyphs">BlueWood</text><path d="M297,919 C300,930 315,938 330,942" stroke-width="1.6" fill="none"/><path d="M297,919 C301,926 310,933 327,938" stroke-width="1.0" fill="none"/><path d="M324.0,938.0 C325.3,936.7 327.8,935.2 330.0,935.0 C332.2,934.8 335.3,935.7 337.0,937.0 C338.7,938.3 340.0,940.7 340.0,943.0 C340.0,945.3 338.7,949.2 337.0,951.0 C335.3,952.8 332.3,954.2 330.0,954.0 C327.7,953.8 324.3,951.8 323.0,950.0 C321.7,948.2 321.8,945.0 322.0,943.0 C322.2,941.0 322.7,939.3 324.0,938.0 Z" stroke-width="1.5" fill="#fff"/><ellipse cx="340.0" cy="941.0" rx="2.4" ry="2.0" stroke-width="1.4" fill="#888"/><path d="M459.3,1138.8 L464.7,1147.2 L642.7,1034.2 L637.3,1025.8 L459.3,1138.8" stroke-width="0" fill="#fff"/><path d="M464.7,1147.2 L642.7,1034.2 M637.3,1025.8 L459.3,1138.8" stroke-width="1.3" fill="none"/><line x1="463.9" y1="1146.1" x2="641.9" y2="1033.1" stroke-width="0.9"/><path d="M497.2,1217.8 L502.8,1226.2 L702.8,1094.2 L697.2,1085.8 L497.2,1217.8" stroke-width="0" fill="#fff"/><path d="M502.8,1226.2 L702.8,1094.2 M697.2,1085.8 L497.2,1217.8" stroke-width="1.3" fill="none"/><line x1="502.0" y1="1225.0" x2="702.0" y2="1093.0" stroke-width="0.9"/><path d="M411.0,1017.0 L575.0,936.0 L1050.0,1115.0 L1065.0,1105.0 L1112.0,1082.0 L1120.0,1095.0 L922.0,1212.0 L850.0,1220.0 L459.0,1066.0 Z" stroke-width="0" fill="#fff"/><path d="M570.0,935.0 C570.0,935.0 570.3,927.9 572.0,925.0 C573.7,922.1 576.7,918.5 580.0,917.5 C583.3,916.5 588.7,917.3 592.0,919.0 C595.3,920.7 598.2,924.5 600.0,927.5 C601.8,930.5 602.5,937.0 602.5,937.0" stroke-width="1.8" fill="none"/><path d="M610,928 L1019,1077 Q1026,1082 1025,1092 Q1027,1101 1035,1100" stroke-width="2.2" fill="none"/><path d="M612,934 L1018,1082" stroke-width="1.2" fill="none"/><path d="M411,1017 L575,936 L1047,1115 L1050,1118" stroke-width="1.3" fill="none"/><path d="M584.0,968.0 C585.3,964.5 587.3,959.5 590.0,957.0 C592.7,954.5 596.3,953.3 600.0,953.0 C603.7,952.7 608.3,955.8 612.0,955.0 C615.7,954.2 618.7,949.2 622.0,948.0 C625.3,946.8 629.5,946.8 632.0,948.0 C634.5,949.2 636.3,951.7 637.0,955.0 C637.7,958.3 637.5,964.7 636.0,968.0 C634.5,971.3 630.3,971.7 628.0,975.0 C625.7,978.3 625.0,984.7 622.0,988.0 C619.0,991.3 615.3,993.5 610.0,995.0 C604.7,996.5 590.0,997.0 590.0,997.0 C590.0,997.0 587.3,988.2 586.0,985.0 C584.7,981.8 582.3,980.8 582.0,978.0 C581.7,975.2 582.7,971.5 584.0,968.0 Z" stroke-width="1.4" fill="#fff"/><ellipse cx="598.0" cy="977.0" rx="2.4" ry="2.0" stroke-width="1.2" fill="#888"/><ellipse cx="611.0" cy="970.0" rx="2.4" ry="2.0" stroke-width="1.2" fill="#888"/><path d="M475.0,1030.0 C476.3,1027.5 483.8,1020.2 488.0,1017.0 C492.2,1013.8 496.7,1014.2 500.0,1011.0 C503.3,1007.8 504.7,1000.8 508.0,998.0 C511.3,995.2 515.7,994.3 520.0,994.0 C524.3,993.7 531.3,993.7 534.0,996.0 C536.7,998.3 536.7,1004.0 536.0,1008.0 C535.3,1012.0 534.0,1017.3 530.0,1020.0 C526.0,1022.7 517.0,1022.3 512.0,1024.0 C507.0,1025.7 505.3,1028.7 500.0,1030.0 C494.7,1031.3 484.2,1032.0 480.0,1032.0 C475.8,1032.0 473.7,1032.5 475.0,1030.0 Z" stroke-width="1.4" fill="#fff"/><ellipse cx="508.0" cy="1009.0" rx="2.4" ry="2.0" stroke-width="1.2" fill="#888"/><ellipse cx="522.0" cy="1002.0" rx="2.4" ry="2.0" stroke-width="1.2" fill="#888"/><path d="M600.0,1050.0 C600.0,1045.3 601.7,1042.2 605.0,1040.0 C608.3,1037.8 615.0,1036.7 620.0,1037.0 C625.0,1037.3 630.8,1040.3 635.0,1042.0 C639.2,1043.7 641.7,1045.3 645.0,1047.0 C648.3,1048.7 653.7,1049.3 655.0,1052.0 C656.3,1054.7 655.5,1060.8 653.0,1063.0 C650.5,1065.2 643.0,1063.5 640.0,1065.0 C637.0,1066.5 636.7,1070.0 635.0,1072.0 C633.3,1074.0 632.5,1077.0 630.0,1077.0 C627.5,1077.0 624.2,1073.5 620.0,1072.0 C615.8,1070.5 608.3,1071.7 605.0,1068.0 C601.7,1064.3 600.0,1054.7 600.0,1050.0 Z" stroke-width="1.4" fill="#fff"/><ellipse cx="618.0" cy="1053.0" rx="2.4" ry="2.0" stroke-width="1.2" fill="#888"/><ellipse cx="630.0" cy="1047.0" rx="2.4" ry="2.0" stroke-width="1.2" fill="#888"/><path d="M701.0,1030.0 C701.5,1026.3 701.8,1021.8 705.0,1018.0 C708.2,1014.2 714.2,1009.7 720.0,1007.0 C725.8,1004.3 734.7,1001.5 740.0,1002.0 C745.3,1002.5 750.7,1005.3 752.0,1010.0 C753.3,1014.7 750.8,1025.0 748.0,1030.0 C745.2,1035.0 741.0,1037.7 735.0,1040.0 C729.0,1042.3 712.0,1044.0 712.0,1044.0 C712.0,1044.0 703.8,1042.3 702.0,1040.0 C700.2,1037.7 700.5,1033.7 701.0,1030.0 Z" stroke-width="1.4" fill="#fff"/><ellipse cx="725.0" cy="1023.0" rx="2.4" ry="2.0" stroke-width="1.2" fill="#888"/><ellipse cx="737.0" cy="1016.0" rx="2.4" ry="2.0" stroke-width="1.2" fill="#888"/><path d="M704.0,1110.0 C705.3,1106.8 714.8,1106.3 720.0,1103.0 C725.2,1099.7 730.0,1093.5 735.0,1090.0 C740.0,1086.5 745.0,1082.8 750.0,1082.0 C755.0,1081.2 762.2,1082.3 765.0,1085.0 C767.8,1087.7 767.8,1093.8 767.0,1098.0 C766.2,1102.2 764.2,1107.3 760.0,1110.0 C755.8,1112.7 747.3,1112.3 742.0,1114.0 C736.7,1115.7 733.0,1118.7 728.0,1120.0 C723.0,1121.3 716.0,1123.7 712.0,1122.0 C708.0,1120.3 702.7,1113.2 704.0,1110.0 Z" stroke-width="1.4" fill="#fff"/><ellipse cx="738.0" cy="1101.0" rx="2.4" ry="2.0" stroke-width="1.2" fill="#888"/><ellipse cx="752.0" cy="1091.0" rx="2.4" ry="2.0" stroke-width="1.2" fill="#888"/><path d="M816.0,1062.0 C817.0,1059.0 818.8,1056.0 822.0,1054.0 C825.2,1052.0 832.3,1051.2 835.0,1050.0 C837.7,1048.8 835.8,1047.2 838.0,1047.0 C840.2,1046.8 843.5,1048.2 848.0,1049.0 C852.5,1049.8 861.0,1049.3 865.0,1052.0 C869.0,1054.7 871.2,1060.3 872.0,1065.0 C872.8,1069.7 872.8,1076.3 870.0,1080.0 C867.2,1083.7 860.8,1086.2 855.0,1087.0 C849.2,1087.8 840.5,1087.0 835.0,1085.0 C829.5,1083.0 825.2,1077.2 822.0,1075.0 C818.8,1072.8 817.0,1074.2 816.0,1072.0 C815.0,1069.8 815.0,1065.0 816.0,1062.0 Z" stroke-width="1.4" fill="#fff"/><ellipse cx="842.0" cy="1066.0" rx="2.4" ry="2.0" stroke-width="1.2" fill="#888"/><ellipse cx="854.0" cy="1060.0" rx="2.4" ry="2.0" stroke-width="1.2" fill="#888"/><path d="M945.0,1105.0 C946.2,1099.5 950.8,1094.5 955.0,1092.0 C959.2,1089.5 964.2,1090.5 970.0,1090.0 C975.8,1089.5 985.0,1087.7 990.0,1089.0 C995.0,1090.3 998.7,1094.5 1000.0,1098.0 C1001.3,1101.5 1000.5,1106.7 998.0,1110.0 C995.5,1113.3 988.0,1114.7 985.0,1118.0 C982.0,1121.3 985.0,1127.2 980.0,1130.0 C975.0,1132.8 955.0,1135.0 955.0,1135.0 C955.0,1135.0 949.7,1130.0 948.0,1125.0 C946.3,1120.0 943.8,1110.5 945.0,1105.0 Z" stroke-width="1.4" fill="#fff"/><ellipse cx="963.0" cy="1115.0" rx="2.4" ry="2.0" stroke-width="1.2" fill="#888"/><ellipse cx="975.0" cy="1108.0" rx="2.4" ry="2.0" stroke-width="1.2" fill="#888"/><path d="M845.0,1160.0 C845.5,1156.2 845.8,1151.7 850.0,1147.0 C854.2,1142.3 864.2,1135.0 870.0,1132.0 C875.8,1129.0 880.7,1128.0 885.0,1129.0 C889.3,1130.0 894.3,1133.7 896.0,1138.0 C897.7,1142.3 897.7,1150.0 895.0,1155.0 C892.3,1160.0 885.8,1165.2 880.0,1168.0 C874.2,1170.8 865.5,1171.7 860.0,1172.0 C854.5,1172.3 849.5,1172.0 847.0,1170.0 C844.5,1168.0 844.5,1163.8 845.0,1160.0 Z" stroke-width="1.4" fill="#fff"/><ellipse cx="866.0" cy="1152.0" rx="2.4" ry="2.0" stroke-width="1.2" fill="#888"/><ellipse cx="880.0" cy="1145.0" rx="2.4" ry="2.0" stroke-width="1.2" fill="#888"/><path d="M418.0,1040.0 C418.2,1037.7 417.3,1030.0 419.0,1026.0 C420.7,1022.0 424.5,1018.0 428.0,1016.0 C431.5,1014.0 436.7,1013.4 440.0,1013.7 C443.3,1014.0 446.3,1015.3 448.0,1018.0 C449.7,1020.7 448.7,1027.0 450.0,1030.0 C451.3,1033.0 454.0,1035.3 456.0,1036.0 C458.0,1036.7 462.0,1034.0 462.0,1034.0" stroke-width="1.8" fill="#fff"/><path d="M440.0,1058.0 C440.7,1056.7 442.0,1051.3 444.0,1050.0 C446.0,1048.7 450.0,1048.8 452.0,1050.0 C454.0,1051.2 454.3,1054.3 456.0,1057.0 C457.7,1059.7 462.0,1066.0 462.0,1066.0" stroke-width="1.6" fill="none"/><path d="M457.0,1027.0 L872.0,1175.0 L872.0,1222.0 L459.0,1066.0 Z" stroke-width="0" fill="#fff"/><path d="M457,1027 L872,1176 Q882,1180 883,1192 Q886,1206 896,1198" stroke-width="2.3" fill="none"/><path d="M459,1034 L872,1183" stroke-width="1.2" fill="none"/><path d="M459,1066 L850,1220" stroke-width="1.5" fill="none"/><path d="M418,1040 L419,1047 Q425,1060 440,1060" stroke-width="1.4" fill="none"/><ellipse cx="550.0" cy="1084.0" rx="3" ry="2.5" stroke-width="1.4" fill="#888"/><ellipse cx="661.0" cy="1126.0" rx="3" ry="2.5" stroke-width="1.4" fill="#888"/><ellipse cx="775.0" cy="1171.0" rx="3" ry="2.5" stroke-width="1.4" fill="#888"/><ellipse cx="425.0" cy="1045.0" rx="2.8" ry="2.4" stroke-width="1.4" fill="#888"/><path d="M1031.0,1082.0 C1036.8,1079.3 1052.7,1069.7 1066.0,1065.7 C1079.3,1061.7 1090.3,1057.1 1111.0,1058.0 C1131.7,1058.9 1163.7,1061.4 1190.0,1071.0 C1216.3,1080.6 1247.2,1097.3 1269.0,1115.6 C1290.8,1133.9 1305.7,1156.9 1321.0,1181.0 C1336.3,1205.1 1352.3,1235.9 1360.6,1260.0 C1368.9,1284.1 1367.9,1313.3 1371.0,1325.6 C1374.1,1337.8 1376.4,1330.4 1379.0,1333.5 C1381.6,1336.6 1386.0,1339.2 1386.8,1344.0 C1387.6,1348.8 1386.2,1358.1 1384.0,1362.0 C1381.8,1365.9 1384.2,1370.2 1373.7,1367.6 C1363.2,1365.0 1321.0,1346.6 1321.0,1346.6" stroke-width="2.0" fill="none"/><path d="M1066.0,1070.7 C1073.5,1069.4 1090.7,1062.1 1111.0,1063.0 C1131.3,1063.9 1162.3,1066.5 1188.0,1076.0 C1213.7,1085.5 1243.7,1102.0 1265.0,1120.0 C1286.3,1138.0 1301.2,1160.3 1316.0,1184.0 C1330.8,1207.7 1345.8,1238.3 1354.0,1262.0 C1362.2,1285.7 1363.2,1315.3 1365.0,1326.0" stroke-width="1.1" fill="none"/><path d="M1328.0,1338.0 C1328.3,1335.5 1327.7,1331.8 1335.0,1333.0 C1342.3,1334.2 1364.8,1341.8 1372.0,1345.0 C1379.2,1348.2 1378.0,1349.8 1378.0,1352.0 C1378.0,1354.2 1379.5,1358.7 1372.0,1358.0 C1364.5,1357.3 1340.3,1351.3 1333.0,1348.0 C1325.7,1344.7 1327.7,1340.5 1328.0,1338.0 Z" stroke-width="1.5" fill="none"/><path d="M1036.0,1092.0 C1037.3,1091.7 1040.7,1089.3 1044.0,1090.0 C1047.3,1090.7 1052.7,1093.0 1056.0,1096.0 C1059.3,1099.0 1062.3,1105.3 1064.0,1108.0 C1065.7,1110.7 1065.7,1111.3 1066.0,1112.0" stroke-width="1.7" fill="#fff"/><path d="M1057.0,1092.0 C1058.0,1091.7 1061.3,1089.3 1063.0,1090.0 C1064.7,1090.7 1066.5,1094.0 1067.0,1096.0 C1067.5,1098.0 1066.2,1101.0 1066.0,1102.0" stroke-width="1.4" fill="none"/><path d="M892.0,1192.0 C893.3,1191.7 896.7,1189.3 900.0,1190.0 C903.3,1190.7 908.7,1192.7 912.0,1196.0 C915.3,1199.3 918.5,1207.0 920.0,1210.0 C921.5,1213.0 920.8,1213.3 921.0,1214.0" stroke-width="1.7" fill="none"/><path d="M919.8,1206.7 L924.2,1213.3 L1114.2,1085.3 C1118.9,1082.2 1114.4,1075.6 1109.8,1078.7 L919.8,1206.7" stroke-width="0" fill="#fff"/><path d="M924.2,1213.3 L1114.2,1085.3 C1118.9,1082.2 1114.4,1075.6 1109.8,1078.7 L919.8,1206.7" stroke-width="1.5" fill="none"/><line x1="923.6" y1="1212.4" x2="1113.6" y2="1084.4" stroke-width="0.9"/><line x1="942.0" y1="1216.0" x2="1121.0" y2="1092.0" stroke-width="1.1"/><path d="M1153.0,1083.0 L1190.0,1097.0 L1190.0,1105.0 L1032.0,1227.0 L995.0,1213.0 L995.0,1205.0 Z" stroke-width="0" fill="#fff"/><path d="M995.0,1205.0 L1153.0,1083.0 L1190.0,1097.0 L1032.0,1219.0" stroke-width="1.7" fill="none"/><path d="M1190.0,1097.0 L1190.0,1105.0 L1032.0,1227.0" stroke-width="1.7" fill="none"/><line x1="1156.0" y1="1086.0" x2="998.0" y2="1208.0" stroke-width="0.8"/><path d="M1203.0,1102.5 L1237.0,1126.0 L1237.0,1134.0 L1079.0,1299.5 L1045.0,1276.0 L1045.0,1268.0 Z" stroke-width="0" fill="#fff"/><path d="M1045.0,1268.0 L1203.0,1102.5 L1237.0,1126.0 L1079.0,1291.5" stroke-width="1.7" fill="none"/><path d="M1237.0,1126.0 L1237.0,1134.0 L1079.0,1299.5" stroke-width="1.7" fill="none"/><line x1="1206.0" y1="1105.5" x2="1048.0" y2="1271.0" stroke-width="0.8"/><path d="M1250.0,1135.0 L1280.5,1165.5 L1280.5,1173.5 L1120.5,1348.5 L1090.0,1318.0 L1090.0,1310.0 Z" stroke-width="0" fill="#fff"/><path d="M1090.0,1310.0 L1250.0,1135.0 L1280.5,1165.5 L1120.5,1340.5" stroke-width="1.7" fill="none"/><path d="M1280.5,1165.5 L1280.5,1173.5 L1120.5,1348.5" stroke-width="1.7" fill="none"/><line x1="1253.0" y1="1138.0" x2="1093.0" y2="1313.0" stroke-width="0.8"/><path d="M1292.0,1178.6 L1316.0,1214.0 L1316.0,1222.0 L1148.0,1403.1 L1124.0,1367.7 L1124.0,1359.7 Z" stroke-width="0" fill="#fff"/><path d="M1124.0,1359.7 L1292.0,1178.6 L1316.0,1214.0 L1148.0,1395.1" stroke-width="1.7" fill="none"/><path d="M1316.0,1214.0 L1316.0,1222.0 L1148.0,1403.1" stroke-width="1.7" fill="none"/><line x1="1295.0" y1="1181.6" x2="1127.0" y2="1362.7" stroke-width="0.8"/><path d="M1321.0,1229.8 L1338.0,1265.0 L1338.0,1273.0 L1152.0,1433.2 L1135.0,1398.0 L1135.0,1390.0 Z" stroke-width="0" fill="#fff"/><path d="M1135.0,1390.0 L1321.0,1229.8 L1338.0,1265.0 L1152.0,1425.2" stroke-width="1.7" fill="none"/><path d="M1338.0,1265.0 L1338.0,1273.0 L1152.0,1433.2" stroke-width="1.7" fill="none"/><line x1="1324.0" y1="1232.8" x2="1138.0" y2="1393.0" stroke-width="0.8"/><path d="M1342.0,1282.0 L1350.0,1317.7 L1350.0,1325.7 L1151.0,1463.7 L1143.0,1428.0 L1143.0,1420.0 Z" stroke-width="0" fill="#fff"/><path d="M1143.0,1420.0 L1342.0,1282.0 L1350.0,1317.7 L1151.0,1455.7" stroke-width="1.7" fill="none"/><path d="M1350.0,1317.7 L1350.0,1325.7 L1151.0,1463.7" stroke-width="1.7" fill="none"/><line x1="1345.0" y1="1285.0" x2="1146.0" y2="1423.0" stroke-width="0.8"/><path d="M1022,1178 C1030,1158 1042,1142 1062,1128 L1120,1106" stroke-width="1.3" fill="none"/><path d="M1070,1116 q7,9 6,22 M1078,1113 q7,9 6,22 M1090,1109 q7,9 6,20 M1036,1140 q7,9 6,22 M1044,1136 q7,9 6,22" stroke-width="1.3" fill="none"/><path d="M963,1218 L1120,1107" stroke-width="1.0" fill="none"/><path d="M811.5,1354.4 C811.5,1354.4 820.7,1357.9 822.9,1362.5 C825.1,1367.1 825.6,1376.3 824.5,1382.0 C823.4,1387.7 819.6,1393.6 816.4,1396.6 C813.1,1399.6 813.7,1401.1 805.0,1400.0 C796.3,1398.9 773.3,1393.0 764.4,1390.0 C755.5,1387.0 754.4,1386.0 751.4,1382.0 C748.4,1378.0 747.1,1370.6 746.5,1365.7 C745.9,1360.8 746.4,1356.5 748.0,1352.7 C749.6,1348.9 753.8,1345.1 756.0,1343.0 C758.2,1340.9 761.0,1340.0 761.0,1340.0 C761.0,1340.0 766.1,1322.1 768.0,1315.0 C769.9,1307.9 768.5,1306.4 772.5,1297.5 C776.5,1288.6 783.9,1272.0 792.0,1261.7 C800.1,1251.4 810.7,1242.5 821.0,1235.7 C831.3,1228.9 840.1,1224.7 853.7,1221.0 C867.3,1217.3 889.6,1213.5 902.5,1213.8 C915.4,1214.1 921.0,1219.8 931.0,1222.8 C941.0,1225.8 952.0,1228.1 962.5,1232.0 C973.0,1235.9 983.3,1240.5 993.8,1246.0 C1004.2,1251.5 1014.6,1257.4 1025.0,1265.0 C1035.4,1272.6 1045.6,1281.4 1056.0,1291.6 C1066.4,1301.8 1077.0,1313.8 1087.5,1326.0 C1098.0,1338.2 1110.4,1352.7 1118.8,1365.0 C1127.1,1377.3 1132.5,1387.2 1137.5,1400.0 C1142.5,1412.8 1145.5,1428.7 1148.8,1442.0 C1152.0,1455.3 1153.5,1472.0 1157.0,1479.7 C1160.5,1487.4 1169.7,1488.0 1169.7,1488.0 C1169.7,1488.0 1180.3,1498.7 1182.0,1505.0 C1183.7,1511.3 1183.5,1521.5 1180.0,1526.0 C1176.5,1530.5 1170.4,1532.7 1161.0,1532.0 C1151.6,1531.3 1133.3,1526.1 1123.6,1521.6 C1113.9,1517.1 1105.5,1511.3 1102.7,1505.0 C1099.9,1498.7 1107.0,1484.0 1107.0,1484.0 C1107.0,1484.0 1121.7,1477.7 1119.5,1463.0 C1117.3,1448.3 1101.9,1406.8 1094.0,1396.0 C1086.1,1385.2 1078.3,1399.8 1072.0,1398.0 C1065.7,1396.2 1060.5,1389.7 1056.0,1385.0 C1051.5,1380.3 1047.0,1374.9 1045.0,1369.7 C1043.0,1364.5 1042.4,1358.7 1043.8,1354.0 C1045.1,1349.3 1053.0,1341.6 1053.0,1341.6 C1053.0,1341.6 1040.3,1327.5 1033.0,1321.0 C1025.7,1314.5 1016.3,1307.9 1009.0,1302.5 C1001.7,1297.1 989.0,1288.4 989.0,1288.4 C989.0,1288.4 988.5,1293.1 987.5,1296.0 C986.5,1298.9 985.9,1303.5 983.0,1305.6 C980.1,1307.7 976.0,1309.3 970.0,1308.8 C964.0,1308.2 953.5,1306.1 947.0,1302.5 C940.5,1298.9 934.2,1292.2 931.0,1287.0 C927.8,1281.8 928.7,1274.7 928.0,1271.0 C927.3,1267.3 926.6,1265.0 926.6,1265.0 C926.6,1265.0 909.3,1262.6 902.5,1262.6 C895.7,1262.6 892.5,1263.8 886.0,1265.0 C879.5,1266.2 863.5,1270.0 863.5,1270.0 C863.5,1270.0 873.5,1272.9 876.5,1276.4 C879.5,1279.9 881.1,1286.4 881.4,1291.0 C881.6,1295.6 881.0,1299.7 878.0,1304.0 C875.0,1308.3 868.1,1314.3 863.5,1317.0 C858.9,1319.7 854.8,1320.3 850.5,1320.0 C846.2,1319.7 840.8,1318.1 837.5,1315.4 C834.2,1312.7 833.2,1306.2 831.0,1304.0 C828.8,1301.8 824.5,1302.4 824.5,1302.4 C824.5,1302.4 820.8,1303.5 818.0,1307.0 C815.2,1310.5 810.2,1317.0 808.0,1323.5 C805.8,1330.0 805.0,1346.0 805.0,1346.0 C805.0,1346.0 811.5,1354.4 811.5,1354.4 Z" stroke-width="2.0" fill="#fff"/><path d="M772.0,1290.0 C775.0,1284.2 782.0,1265.0 790.0,1255.0 C798.0,1245.0 809.4,1236.5 820.0,1230.0 C830.6,1223.5 840.0,1219.5 853.7,1216.0 C867.5,1212.5 889.6,1208.7 902.5,1209.0 C915.4,1209.3 921.0,1214.9 931.0,1218.0 C941.0,1221.1 952.0,1223.6 962.5,1227.5 C973.0,1231.4 983.3,1236.0 993.8,1241.5 C1004.2,1247.0 1014.6,1252.9 1025.0,1260.5 C1035.4,1268.1 1045.6,1276.8 1056.0,1287.0 C1066.4,1297.2 1077.0,1309.2 1087.5,1321.5 C1098.0,1333.8 1110.0,1347.8 1118.8,1360.5 C1127.5,1373.2 1134.5,1384.8 1140.0,1398.0 C1145.5,1411.2 1148.5,1426.3 1152.0,1440.0 C1155.5,1453.7 1159.5,1473.3 1161.0,1480.0" stroke-width="1.2" fill="none"/><path d="M869.0,1274.0 C871.2,1275.0 879.0,1276.5 882.0,1280.0 C885.0,1283.5 886.8,1290.3 887.0,1295.0 C887.2,1299.7 885.8,1303.8 883.0,1308.0 C880.2,1312.2 872.2,1318.0 870.0,1320.0" stroke-width="1.3" fill="none"/><path d="M1165.0,1492.0 C1166.8,1493.3 1172.5,1497.0 1176.0,1500.0 C1179.5,1503.0 1184.7,1505.8 1186.0,1510.0 C1187.3,1514.2 1184.3,1522.5 1184.0,1525.0" stroke-width="1.2" fill="none"/><path d="M818.0,1360.0 C819.7,1361.3 826.2,1364.3 828.0,1368.0 C829.8,1371.7 830.0,1377.3 829.0,1382.0 C828.0,1386.7 823.2,1393.7 822.0,1396.0" stroke-width="1.2" fill="none"/><path d="M759.5,1356.0 C761.0,1354.0 758.9,1351.0 766.0,1353.0 C773.1,1355.0 795.0,1364.2 802.0,1368.0 C809.0,1371.8 807.2,1372.8 808.0,1376.0 C808.8,1379.2 808.3,1384.8 807.0,1387.0 C805.7,1389.2 807.5,1391.3 800.0,1389.0 C792.5,1386.7 769.2,1377.0 762.0,1373.0 C754.8,1369.0 757.4,1367.8 757.0,1365.0 C756.6,1362.2 758.0,1358.0 759.5,1356.0 Z" stroke-width="1.6" fill="none"/><path d="M1113.0,1496.0 C1113.2,1493.7 1109.2,1489.7 1118.0,1492.0 C1126.8,1494.3 1157.3,1505.3 1166.0,1510.0 C1174.7,1514.7 1170.3,1517.5 1170.0,1520.0 C1169.7,1522.5 1172.8,1527.3 1164.0,1525.0 C1155.2,1522.7 1125.5,1510.8 1117.0,1506.0 C1108.5,1501.2 1112.8,1498.3 1113.0,1496.0 Z" stroke-width="1.6" fill="none"/><path d="M832.6,1297.5 C835.2,1292.8 850.5,1282.2 855.4,1279.6 C860.3,1277.0 860.4,1280.3 862.0,1282.0 C863.6,1283.7 864.8,1286.3 865.0,1290.0 C865.2,1293.7 865.4,1300.6 863.5,1304.0 C861.6,1307.4 857.6,1309.8 853.7,1310.5 C849.8,1311.2 843.5,1310.2 840.0,1308.0 C836.5,1305.8 830.0,1302.2 832.6,1297.5 Z" stroke-width="1.6" fill="none"/><path d="M836.0,1296.0 C838.7,1294.0 848.0,1285.0 852.0,1284.0 C856.0,1283.0 858.7,1289.0 860.0,1290.0" stroke-width="1.0" fill="none"/><path d="M937.5,1272.0 C937.5,1269.1 935.8,1267.9 942.0,1269.7 C948.2,1271.5 968.7,1279.3 975.0,1283.0 C981.3,1286.7 979.7,1289.3 979.7,1292.0 C979.7,1294.7 978.3,1298.6 975.0,1299.4 C971.7,1300.2 965.5,1299.1 960.0,1297.0 C954.5,1294.9 945.8,1291.2 942.0,1287.0 C938.2,1282.8 937.5,1274.9 937.5,1272.0 Z" stroke-width="1.6" fill="none"/><path d="M1053.0,1356.0 C1052.7,1351.8 1056.2,1352.5 1058.0,1352.5 C1059.8,1352.5 1059.7,1350.1 1064.0,1356.0 C1068.3,1361.9 1080.3,1381.3 1084.0,1388.0 C1087.7,1394.7 1087.0,1394.8 1086.0,1396.0 C1085.0,1397.2 1082.3,1398.0 1078.0,1395.0 C1073.7,1392.0 1064.2,1384.5 1060.0,1378.0 C1055.8,1371.5 1053.3,1360.2 1053.0,1356.0 Z" stroke-width="1.5" fill="none"/><ellipse cx="786.5" cy="1325.0" rx="2.6" ry="2.2" stroke-width="1.2" fill="#888"/><ellipse cx="809.6" cy="1281.0" rx="2.6" ry="2.2" stroke-width="1.2" fill="#888"/><ellipse cx="845.0" cy="1251.5" rx="2.6" ry="2.2" stroke-width="1.2" fill="#888"/><ellipse cx="893.3" cy="1241.0" rx="2.6" ry="2.2" stroke-width="1.2" fill="#888"/><ellipse cx="957.8" cy="1251.7" rx="2.6" ry="2.2" stroke-width="1.2" fill="#888"/><ellipse cx="1006.0" cy="1276.7" rx="2.6" ry="2.2" stroke-width="1.2" fill="#888"/><ellipse cx="1051.6" cy="1314.0" rx="2.6" ry="2.2" stroke-width="1.2" fill="#888"/><ellipse cx="1090.0" cy="1360.0" rx="2.6" ry="2.2" stroke-width="1.2" fill="#888"/><ellipse cx="1117.4" cy="1412.7" rx="2.6" ry="2.2" stroke-width="1.2" fill="#888"/><ellipse cx="1134.0" cy="1467.0" rx="2.6" ry="2.2" stroke-width="1.2" fill="#888"/>
</g>
<g stroke="#24649a" stroke-width="1.6" fill="none"><line x1="428" y1="306" x2="453" y2="298.8"/><line x1="423.7" y1="304.7" x2="432.3" y2="307.3"/><line x1="448.7" y1="297.5" x2="457.3" y2="300.1"/><line x1="461" y1="288.6" x2="606" y2="313.4"/><line x1="687" y1="327.3" x2="837.3" y2="352.7"/><line x1="461.0" y1="282.6" x2="461.0" y2="294.6"/><line x1="837.3" y1="346.7" x2="837.3" y2="358.7"/><line x1="858" y1="370" x2="858" y2="452"/><line x1="858" y1="490" x2="858" y2="582"/><line x1="851.0" y1="370.0" x2="865.0" y2="370.0"/><line x1="851.0" y1="582.0" x2="865.0" y2="582.0"/><line x1="1026.7" y1="154.4" x2="1207.5" y2="171.5"/><line x1="1306.8" y1="180.9" x2="1472.6" y2="196.7"/><line x1="1026.7" y1="147.4" x2="1026.7" y2="161.4"/><line x1="1472.6" y1="189.7" x2="1472.6" y2="203.7"/><line x1="981.5" y1="178" x2="981.3" y2="391.5"/><line x1="980.8" y1="443.3" x2="980.3" y2="693.7"/><line x1="973.5" y1="177.3" x2="989.5" y2="178.7"/><line x1="972.3" y1="693.0" x2="988.3" y2="694.4"/><line x1="1378" y1="858" x2="1431" y2="824.5"/><line x1="1509" y1="770" x2="1551.6" y2="744"/><line x1="1374.7" y1="853.0" x2="1381.3" y2="863.0"/><line x1="1548.3" y1="739.0" x2="1554.9" y2="749.0"/><line x1="243.2" y1="740.1" x2="350.4" y2="681.3"/><line x1="438.6" y1="631.4" x2="501.7" y2="596.2"/><line x1="243.2" y1="733.1" x2="243.2" y2="747.1"/><line x1="501.7" y1="589.2" x2="501.7" y2="603.2"/><line x1="626" y1="643.2" x2="626" y2="674"/><line x1="626" y1="709" x2="626" y2="753.3"/><line x1="626.0" y1="643.2" x2="626.0" y2="643.2"/><line x1="626.0" y1="753.3" x2="626.0" y2="753.3"/><line x1="519" y1="611" x2="642" y2="648"/><line x1="515" y1="721" x2="642" y2="758"/><line x1="363.5" y1="810" x2="363.6" y2="1112"/><line x1="363.7" y1="1165.5" x2="363.8" y2="1215.2"/><line x1="356.7" y1="808.2" x2="370.3" y2="811.8"/><line x1="357.0" y1="1213.4" x2="370.6" y2="1217.0"/><line x1="144.8" y1="1175.4" x2="295.3" y2="1227.8"/><line x1="393.4" y1="1264.9" x2="514.8" y2="1307.1"/><line x1="144.8" y1="1168.4" x2="144.8" y2="1182.4"/><line x1="514.8" y1="1300.1" x2="514.8" y2="1314.1"/><line x1="143.4" y1="1213" x2="565.6" y2="1364"/><line x1="666.2" y1="1401.2" x2="1169.3" y2="1578.4"/><line x1="143.4" y1="1206.0" x2="143.4" y2="1220.0"/><line x1="1169.3" y1="1571.4" x2="1169.3" y2="1585.4"/><line x1="421.9" y1="1009" x2="467.8" y2="982.8"/><line x1="548.7" y1="930.3" x2="588.1" y2="906.2"/><line x1="421.9" y1="1002.0" x2="421.9" y2="1016.0"/><line x1="588.1" y1="899.2" x2="588.1" y2="913.2"/><line x1="580.2" y1="889.6" x2="817.8" y2="974"/><line x1="909.6" y1="1006.9" x2="1071.5" y2="1070.3"/><line x1="580.2" y1="882.6" x2="580.2" y2="896.6"/><line x1="1071.5" y1="1063.3" x2="1071.5" y2="1077.3"/><line x1="741.5" y1="1402.1" x2="885" y2="1453.7"/><line x1="992" y1="1492.2" x2="1169.3" y2="1555.2"/><line x1="741.5" y1="1395.1" x2="741.5" y2="1409.1"/><line x1="1169.3" y1="1548.2" x2="1169.3" y2="1562.2"/><line x1="928.7" y1="1224" x2="928.7" y2="1344"/><line x1="928.7" y1="1384" x2="928.7" y2="1444"/><line x1="921.9" y1="1222.2" x2="935.5" y2="1225.8"/><line x1="921.9" y1="1442.2" x2="935.5" y2="1445.8"/><line x1="1175.3" y1="1542.8" x2="1273.8" y2="1466"/><line x1="1356.3" y1="1401.3" x2="1404.1" y2="1363.8"/><line x1="1171.6" y1="1538.1" x2="1179.0" y2="1547.5"/><line x1="1400.4" y1="1359.1" x2="1407.8" y2="1368.5"/></g>
<g fill="#24649a" font-weight="bold" text-anchor="middle" stroke="#24649a" stroke-width="1.1" stroke-linejoin="round"><text transform="matrix(0.9272,-0.3746,0.2079,0.9781,421,289)" x="0" y="8.3" font-size="23" textLength="49" lengthAdjust="spacingAndGlyphs">4.3"</text><text transform="matrix(0.9857,0.1685,-0.0000,1.0000,651,316)" x="0" y="9.7" font-size="27" textLength="73" lengthAdjust="spacingAndGlyphs">38.2"</text><text transform="matrix(0.9976,0.0698,-0.0000,1.0000,872.7,471)" x="0" y="9.4" font-size="26" textLength="65" lengthAdjust="spacingAndGlyphs">19.3"</text><text transform="matrix(0.9956,0.0941,-0.0000,1.0000,1259,170.5)" x="0" y="12.2" font-size="34" textLength="87" lengthAdjust="spacingAndGlyphs">28.9"</text><text transform="matrix(1.0000,0.0000,-0.0000,1.0000,982,415.7)" x="0" y="12.2" font-size="34" textLength="86" lengthAdjust="spacingAndGlyphs">36.1"</text><text transform="matrix(0.8387,-0.5446,0.2588,0.9659,1471,792.5)" x="0" y="11.2" font-size="31" textLength="72" lengthAdjust="spacingAndGlyphs">21.7"</text><text transform="matrix(0.8746,-0.4848,0.2588,0.9659,393,654)" x="0" y="11.9" font-size="33" textLength="81" lengthAdjust="spacingAndGlyphs">23.6"</text><text transform="matrix(0.9903,0.1392,-0.0000,1.0000,633,691.5)" x="0" y="12.2" font-size="34" textLength="66" lengthAdjust="spacingAndGlyphs">5.5"</text><text transform="matrix(0.9613,0.2756,-0.0000,1.0000,362,1135)" x="0" y="12.2" font-size="34" textLength="88" lengthAdjust="spacingAndGlyphs">22.8"</text><text transform="matrix(0.9421,0.3355,-0.0000,1.0000,347,1245)" x="0" y="12.2" font-size="34" textLength="94" lengthAdjust="spacingAndGlyphs">27.4"</text><text transform="matrix(0.8508,-0.5255,0.2924,0.9563,507,950)" x="0" y="12.2" font-size="34" textLength="76" lengthAdjust="spacingAndGlyphs">14.5"</text><text transform="matrix(0.9397,0.3420,-0.0000,1.0000,868.5,990)" x="0" y="12.2" font-size="34" textLength="94" lengthAdjust="spacingAndGlyphs">36.1"</text><text transform="matrix(0.9421,0.3355,-0.0000,1.0000,616,1383.7)" x="0" y="12.2" font-size="34" textLength="93" lengthAdjust="spacingAndGlyphs">74.4"</text><text transform="matrix(0.9903,0.1392,-0.0000,1.0000,934,1365)" x="0" y="12.2" font-size="34" textLength="55" lengthAdjust="spacingAndGlyphs">15"</text><text transform="matrix(0.9421,0.3355,-0.0000,1.0000,944,1470.3)" x="0" y="12.2" font-size="34" textLength="95" lengthAdjust="spacingAndGlyphs">28.9"</text><text transform="matrix(0.7880,-0.6157,0.2588,0.9659,1315,1430.3)" x="0" y="12.2" font-size="34" textLength="76" lengthAdjust="spacingAndGlyphs">20.5"</text></g>

<g transform="translate(82,302) skewY(-22)">
<text x="0" y="0" font-size="60" font-weight="bold" font-style="italic" fill="#24649a" stroke="#24649a" stroke-width="3" stroke-linejoin="round" textLength="192" lengthAdjust="spacingAndGlyphs">Aurora</text>
<text x="1" y="56" font-size="58" font-style="italic" font-weight="bold" fill="none" stroke="#24649a" stroke-width="1.7" textLength="165" lengthAdjust="spacingAndGlyphs">Series</text>
</g>
</svg>
</body></html>
